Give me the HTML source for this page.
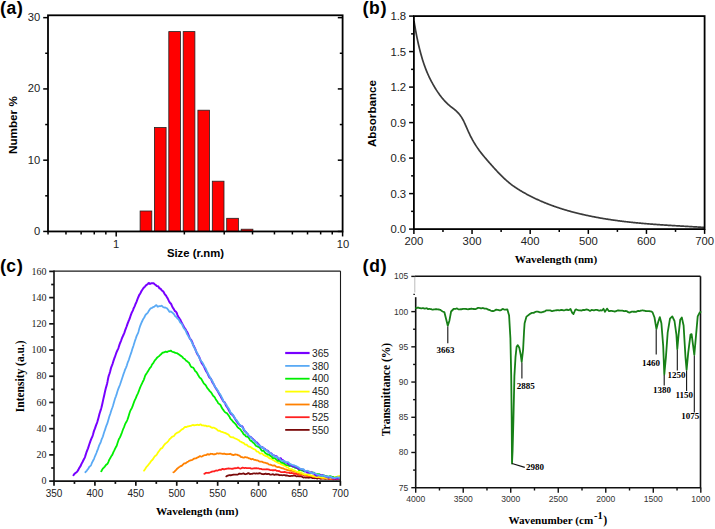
<!DOCTYPE html>
<html><head><meta charset="utf-8"><style>
html,body{margin:0;padding:0;background:#fff;}
body{width:715px;height:529px;overflow:hidden;}
svg{display:block;}

</style></head><body>
<svg width="715" height="529" viewBox="0 0 715 529">
<rect width="715" height="529" fill="#fff"/>
<text x="-0.09" y="13.90" font-family="Liberation Sans, sans-serif" font-size="18.5" font-weight="bold" fill="#000">(</text>
<text x="6.39" y="13.90" font-family="Liberation Sans, sans-serif" font-size="17.5" font-weight="bold" fill="#000">a</text>
<text x="16.78" y="13.90" font-family="Liberation Sans, sans-serif" font-size="18.5" font-weight="bold" fill="#000">)</text>
<rect x="140.10" y="211.00" width="11.7" height="20.45" fill="#ff0000" stroke="#222" stroke-width="0.8"/>
<rect x="154.40" y="127.50" width="11.7" height="103.95" fill="#ff0000" stroke="#222" stroke-width="0.8"/>
<rect x="168.80" y="31.60" width="11.7" height="199.85" fill="#ff0000" stroke="#222" stroke-width="0.8"/>
<rect x="183.20" y="31.60" width="11.7" height="199.85" fill="#ff0000" stroke="#222" stroke-width="0.8"/>
<rect x="197.90" y="110.20" width="11.7" height="121.25" fill="#ff0000" stroke="#222" stroke-width="0.8"/>
<rect x="212.30" y="181.20" width="11.7" height="50.25" fill="#ff0000" stroke="#222" stroke-width="0.8"/>
<rect x="226.70" y="218.30" width="11.7" height="13.15" fill="#ff0000" stroke="#222" stroke-width="0.8"/>
<rect x="241.20" y="229.20" width="11.7" height="2.25" fill="#ff0000" stroke="#222" stroke-width="0.8"/>
<rect x="48.0" y="15.3" width="294.6" height="216.14999999999998" fill="none" stroke="#000" stroke-width="1.8"/>
<line x1="43.20" y1="231.45" x2="48.00" y2="231.45" stroke="#000" stroke-width="1.5" />
<line x1="342.60" y1="231.45" x2="337.80" y2="231.45" stroke="#000" stroke-width="1.5" />
<text x="40.20" y="234.95" font-family="Liberation Sans, sans-serif" font-size="11.2" text-anchor="end" font-weight="normal" fill="#222" >0</text>
<line x1="45.20" y1="195.82" x2="48.00" y2="195.82" stroke="#000" stroke-width="1.5" />
<line x1="342.60" y1="195.82" x2="339.80" y2="195.82" stroke="#000" stroke-width="1.5" />
<line x1="43.20" y1="160.18" x2="48.00" y2="160.18" stroke="#000" stroke-width="1.5" />
<line x1="342.60" y1="160.18" x2="337.80" y2="160.18" stroke="#000" stroke-width="1.5" />
<text x="40.20" y="163.68" font-family="Liberation Sans, sans-serif" font-size="11.2" text-anchor="end" font-weight="normal" fill="#222" >10</text>
<line x1="45.20" y1="124.55" x2="48.00" y2="124.55" stroke="#000" stroke-width="1.5" />
<line x1="342.60" y1="124.55" x2="339.80" y2="124.55" stroke="#000" stroke-width="1.5" />
<line x1="43.20" y1="88.92" x2="48.00" y2="88.92" stroke="#000" stroke-width="1.5" />
<line x1="342.60" y1="88.92" x2="337.80" y2="88.92" stroke="#000" stroke-width="1.5" />
<text x="40.20" y="92.42" font-family="Liberation Sans, sans-serif" font-size="11.2" text-anchor="end" font-weight="normal" fill="#222" >20</text>
<line x1="45.20" y1="53.28" x2="48.00" y2="53.28" stroke="#000" stroke-width="1.5" />
<line x1="342.60" y1="53.28" x2="339.80" y2="53.28" stroke="#000" stroke-width="1.5" />
<line x1="43.20" y1="17.65" x2="48.00" y2="17.65" stroke="#000" stroke-width="1.5" />
<line x1="342.60" y1="17.65" x2="337.80" y2="17.65" stroke="#000" stroke-width="1.5" />
<text x="40.20" y="21.15" font-family="Liberation Sans, sans-serif" font-size="11.2" text-anchor="end" font-weight="normal" fill="#222" >30</text>
<line x1="48.05" y1="231.45" x2="48.05" y2="234.45" stroke="#000" stroke-width="1.5" />
<line x1="65.97" y1="231.45" x2="65.97" y2="234.45" stroke="#000" stroke-width="1.5" />
<line x1="81.13" y1="231.45" x2="81.13" y2="234.45" stroke="#000" stroke-width="1.5" />
<line x1="94.26" y1="231.45" x2="94.26" y2="234.45" stroke="#000" stroke-width="1.5" />
<line x1="105.84" y1="231.45" x2="105.84" y2="234.45" stroke="#000" stroke-width="1.5" />
<line x1="116.20" y1="231.45" x2="116.20" y2="236.45" stroke="#000" stroke-width="1.5" />
<line x1="184.35" y1="231.45" x2="184.35" y2="234.45" stroke="#000" stroke-width="1.5" />
<line x1="224.22" y1="231.45" x2="224.22" y2="234.45" stroke="#000" stroke-width="1.5" />
<line x1="252.51" y1="231.45" x2="252.51" y2="234.45" stroke="#000" stroke-width="1.5" />
<line x1="274.45" y1="231.45" x2="274.45" y2="234.45" stroke="#000" stroke-width="1.5" />
<line x1="292.37" y1="231.45" x2="292.37" y2="234.45" stroke="#000" stroke-width="1.5" />
<line x1="307.53" y1="231.45" x2="307.53" y2="234.45" stroke="#000" stroke-width="1.5" />
<line x1="320.66" y1="231.45" x2="320.66" y2="234.45" stroke="#000" stroke-width="1.5" />
<line x1="332.24" y1="231.45" x2="332.24" y2="234.45" stroke="#000" stroke-width="1.5" />
<line x1="342.60" y1="231.45" x2="342.60" y2="236.45" stroke="#000" stroke-width="1.5" />
<text x="116.20" y="247.60" font-family="Liberation Sans, sans-serif" font-size="11.2" text-anchor="middle" font-weight="normal" fill="#222" >1</text>
<text x="342.90" y="247.90" font-family="Liberation Sans, sans-serif" font-size="11.2" text-anchor="middle" font-weight="normal" fill="#222" >10</text>
<text x="195.50" y="257.00" font-family="Liberation Sans, sans-serif" font-size="11.3" text-anchor="middle" font-weight="bold" fill="#000" >Size (r.nm)</text>
<text x="16.81" y="125.10" font-family="Liberation Sans, sans-serif" font-size="11.7" text-anchor="middle" font-weight="bold" fill="#000" transform="rotate(-90 16.81 125.10)">Number %</text>
<text x="362.47" y="13.60" font-family="Liberation Sans, sans-serif" font-size="18.5" font-weight="bold" fill="#000">(</text>
<text x="368.95" y="13.60" font-family="Liberation Sans, sans-serif" font-size="17.5" font-weight="bold" fill="#000">b</text>
<text x="380.38" y="13.60" font-family="Liberation Sans, sans-serif" font-size="18.5" font-weight="bold" fill="#000">)</text>
<line x1="409.10" y1="229.10" x2="413.90" y2="229.10" stroke="#000" stroke-width="1.5" />
<text x="406.10" y="233.10" font-family="Liberation Sans, sans-serif" font-size="11.3" text-anchor="end" font-weight="normal" fill="#222" >0.0</text>
<line x1="411.10" y1="211.35" x2="413.90" y2="211.35" stroke="#000" stroke-width="1.5" />
<line x1="409.10" y1="193.60" x2="413.90" y2="193.60" stroke="#000" stroke-width="1.5" />
<text x="406.10" y="197.60" font-family="Liberation Sans, sans-serif" font-size="11.3" text-anchor="end" font-weight="normal" fill="#222" >0.3</text>
<line x1="411.10" y1="175.85" x2="413.90" y2="175.85" stroke="#000" stroke-width="1.5" />
<line x1="409.10" y1="158.10" x2="413.90" y2="158.10" stroke="#000" stroke-width="1.5" />
<text x="406.10" y="162.10" font-family="Liberation Sans, sans-serif" font-size="11.3" text-anchor="end" font-weight="normal" fill="#222" >0.6</text>
<line x1="411.10" y1="140.35" x2="413.90" y2="140.35" stroke="#000" stroke-width="1.5" />
<line x1="409.10" y1="122.60" x2="413.90" y2="122.60" stroke="#000" stroke-width="1.5" />
<text x="406.10" y="126.60" font-family="Liberation Sans, sans-serif" font-size="11.3" text-anchor="end" font-weight="normal" fill="#222" >0.9</text>
<line x1="411.10" y1="104.85" x2="413.90" y2="104.85" stroke="#000" stroke-width="1.5" />
<line x1="409.10" y1="87.10" x2="413.90" y2="87.10" stroke="#000" stroke-width="1.5" />
<text x="406.10" y="91.10" font-family="Liberation Sans, sans-serif" font-size="11.3" text-anchor="end" font-weight="normal" fill="#222" >1.2</text>
<line x1="411.10" y1="69.35" x2="413.90" y2="69.35" stroke="#000" stroke-width="1.5" />
<line x1="409.10" y1="51.60" x2="413.90" y2="51.60" stroke="#000" stroke-width="1.5" />
<text x="406.10" y="55.60" font-family="Liberation Sans, sans-serif" font-size="11.3" text-anchor="end" font-weight="normal" fill="#222" >1.5</text>
<line x1="411.10" y1="33.85" x2="413.90" y2="33.85" stroke="#000" stroke-width="1.5" />
<line x1="409.10" y1="16.10" x2="413.90" y2="16.10" stroke="#000" stroke-width="1.5" />
<text x="406.10" y="20.10" font-family="Liberation Sans, sans-serif" font-size="11.3" text-anchor="end" font-weight="normal" fill="#222" >1.8</text>
<line x1="413.90" y1="229.10" x2="413.90" y2="233.90" stroke="#000" stroke-width="1.5" />
<text x="413.90" y="245.10" font-family="Liberation Sans, sans-serif" font-size="11.3" text-anchor="middle" font-weight="normal" fill="#222" >200</text>
<line x1="442.97" y1="229.10" x2="442.97" y2="231.90" stroke="#000" stroke-width="1.5" />
<line x1="472.04" y1="229.10" x2="472.04" y2="233.90" stroke="#000" stroke-width="1.5" />
<text x="472.04" y="245.10" font-family="Liberation Sans, sans-serif" font-size="11.3" text-anchor="middle" font-weight="normal" fill="#222" >300</text>
<line x1="501.11" y1="229.10" x2="501.11" y2="231.90" stroke="#000" stroke-width="1.5" />
<line x1="530.18" y1="229.10" x2="530.18" y2="233.90" stroke="#000" stroke-width="1.5" />
<text x="530.18" y="245.10" font-family="Liberation Sans, sans-serif" font-size="11.3" text-anchor="middle" font-weight="normal" fill="#222" >400</text>
<line x1="559.25" y1="229.10" x2="559.25" y2="231.90" stroke="#000" stroke-width="1.5" />
<line x1="588.32" y1="229.10" x2="588.32" y2="233.90" stroke="#000" stroke-width="1.5" />
<text x="588.32" y="245.10" font-family="Liberation Sans, sans-serif" font-size="11.3" text-anchor="middle" font-weight="normal" fill="#222" >500</text>
<line x1="617.39" y1="229.10" x2="617.39" y2="231.90" stroke="#000" stroke-width="1.5" />
<line x1="646.46" y1="229.10" x2="646.46" y2="233.90" stroke="#000" stroke-width="1.5" />
<text x="646.46" y="245.10" font-family="Liberation Sans, sans-serif" font-size="11.3" text-anchor="middle" font-weight="normal" fill="#222" >600</text>
<line x1="675.53" y1="229.10" x2="675.53" y2="231.90" stroke="#000" stroke-width="1.5" />
<line x1="704.60" y1="229.10" x2="704.60" y2="233.90" stroke="#000" stroke-width="1.5" />
<text x="704.60" y="245.10" font-family="Liberation Sans, sans-serif" font-size="11.3" text-anchor="middle" font-weight="normal" fill="#222" >700</text>
<path d="M414.10,21.53 L414.60,24.57 L415.10,27.49 L415.60,30.30 L416.10,32.99 L416.60,35.58 L417.10,38.06 L417.60,40.45 L418.10,42.74 L418.60,44.94 L419.10,47.06 L419.60,49.10 L420.10,51.07 L420.60,52.97 L421.10,54.79 L421.60,56.56 L422.10,58.26 L422.60,59.90 L423.10,61.48 L423.60,63.01 L424.10,64.48 L424.60,65.90 L425.10,67.27 L425.60,68.60 L426.10,69.89 L426.60,71.13 L427.10,72.33 L427.60,73.50 L428.10,74.63 L428.60,75.73 L429.10,76.80 L429.60,77.84 L430.10,78.86 L430.60,79.85 L431.10,80.83 L431.60,81.78 L432.10,82.72 L432.60,83.64 L433.10,84.54 L433.60,85.42 L434.10,86.29 L434.60,87.14 L435.10,87.97 L435.60,88.79 L436.10,89.59 L436.60,90.37 L437.10,91.14 L437.60,91.89 L438.10,92.62 L438.60,93.34 L439.10,94.05 L439.60,94.74 L440.10,95.41 L440.60,96.07 L441.10,96.71 L441.60,97.35 L442.10,97.96 L442.60,98.56 L443.10,99.15 L443.60,99.73 L444.10,100.29 L444.60,100.84 L445.10,101.37 L445.60,101.90 L446.10,102.41 L446.60,102.91 L447.10,103.39 L447.60,103.87 L448.10,104.33 L448.60,104.78 L449.10,105.22 L449.60,105.65 L450.10,106.07 L450.60,106.48 L451.10,106.87 L451.60,107.26 L452.10,107.65 L452.60,108.03 L453.10,108.42 L453.60,108.80 L454.10,109.19 L454.60,109.59 L455.10,110.00 L455.60,110.42 L456.10,110.86 L456.60,111.31 L457.10,111.79 L457.60,112.29 L458.10,112.81 L458.60,113.36 L459.10,113.95 L459.60,114.56 L460.10,115.21 L460.60,115.90 L461.10,116.63 L461.60,117.40 L462.10,118.22 L462.60,119.09 L463.10,120.01 L463.60,120.98 L464.10,122.00 L464.60,123.06 L465.10,124.16 L465.60,125.28 L466.10,126.42 L466.60,127.56 L467.10,128.71 L467.60,129.86 L468.10,130.99 L468.60,132.09 L469.10,133.18 L469.60,134.23 L470.10,135.26 L470.60,136.26 L471.10,137.24 L471.60,138.20 L472.10,139.13 L472.60,140.05 L473.10,140.94 L473.60,141.81 L474.10,142.66 L474.60,143.49 L475.10,144.30 L475.60,145.10 L476.10,145.88 L476.60,146.64 L477.10,147.38 L477.60,148.12 L478.10,148.83 L478.60,149.54 L479.10,150.23 L479.60,150.90 L480.10,151.57 L480.60,152.23 L481.10,152.87 L481.60,153.51 L482.10,154.14 L482.60,154.76 L483.10,155.37 L483.60,155.97 L484.10,156.57 L484.60,157.17 L485.10,157.76 L485.60,158.35 L486.10,158.93 L486.60,159.51 L487.10,160.09 L487.60,160.67 L488.10,161.24 L488.60,161.82 L489.10,162.39 L489.60,162.96 L490.10,163.53 L490.60,164.10 L491.10,164.67 L491.60,165.23 L492.10,165.80 L492.60,166.36 L493.10,166.91 L493.60,167.47 L494.10,168.02 L494.60,168.57 L495.10,169.12 L495.60,169.66 L496.10,170.20 L496.60,170.74 L497.10,171.28 L497.60,171.81 L498.10,172.33 L498.60,172.85 L499.10,173.37 L499.60,173.89 L500.10,174.40 L500.60,174.91 L501.10,175.41 L501.60,175.91 L502.10,176.40 L502.60,176.89 L503.10,177.37 L503.60,177.85 L504.10,178.32 L504.60,178.79 L505.10,179.25 L505.60,179.70 L506.10,180.16 L506.60,180.60 L507.10,181.04 L507.60,181.47 L508.10,181.90 L508.60,182.32 L509.10,182.73 L509.60,183.14 L510.10,183.54 L510.60,183.94 L511.10,184.32 L511.60,184.71 L512.10,185.08 L512.60,185.46 L513.10,185.82 L513.60,186.18 L514.10,186.54 L514.60,186.89 L515.10,187.23 L515.60,187.57 L516.10,187.91 L516.60,188.24 L517.10,188.57 L517.60,188.89 L518.10,189.21 L518.60,189.52 L519.10,189.83 L519.60,190.14 L520.10,190.44 L520.60,190.74 L521.10,191.04 L521.60,191.34 L522.10,191.63 L522.60,191.92 L523.10,192.20 L523.60,192.48 L524.10,192.76 L524.60,193.04 L525.10,193.32 L525.60,193.59 L526.10,193.87 L526.60,194.14 L527.10,194.41 L527.60,194.67 L528.10,194.94 L528.60,195.20 L529.10,195.46 L529.60,195.72 L530.10,195.98 L530.60,196.23 L531.10,196.49 L531.60,196.74 L532.10,196.99 L532.60,197.24 L533.10,197.48 L533.60,197.73 L534.10,197.97 L534.60,198.21 L535.10,198.45 L535.60,198.68 L536.10,198.92 L536.60,199.15 L537.10,199.38 L537.60,199.61 L538.10,199.84 L538.60,200.07 L539.10,200.29 L539.60,200.51 L540.10,200.74 L540.60,200.95 L541.10,201.17 L541.60,201.39 L542.10,201.60 L542.60,201.82 L543.10,202.03 L543.60,202.24 L544.10,202.44 L544.60,202.65 L545.10,202.86 L545.60,203.06 L546.10,203.26 L546.60,203.46 L547.10,203.66 L547.60,203.86 L548.10,204.05 L548.60,204.25 L549.10,204.44 L549.60,204.63 L550.10,204.82 L550.60,205.01 L551.10,205.19 L551.60,205.38 L552.10,205.56 L552.60,205.74 L553.10,205.92 L553.60,206.10 L554.10,206.28 L554.60,206.46 L555.10,206.63 L555.60,206.81 L556.10,206.98 L556.60,207.15 L557.10,207.32 L557.60,207.49 L558.10,207.65 L558.60,207.82 L559.10,207.98 L559.60,208.15 L560.10,208.31 L560.60,208.47 L561.10,208.63 L561.60,208.79 L562.10,208.94 L562.60,209.10 L563.10,209.25 L563.60,209.41 L564.10,209.56 L564.60,209.71 L565.10,209.86 L565.60,210.01 L566.10,210.15 L566.60,210.30 L567.10,210.45 L567.60,210.59 L568.10,210.73 L568.60,210.87 L569.10,211.01 L569.60,211.15 L570.10,211.29 L570.60,211.43 L571.10,211.57 L571.60,211.70 L572.10,211.84 L572.60,211.97 L573.10,212.10 L573.60,212.23 L574.10,212.36 L574.60,212.49 L575.10,212.62 L575.60,212.75 L576.10,212.87 L576.60,213.00 L577.10,213.12 L577.60,213.25 L578.10,213.37 L578.60,213.49 L579.10,213.61 L579.60,213.73 L580.10,213.85 L580.60,213.97 L581.10,214.09 L581.60,214.20 L582.10,214.32 L582.60,214.43 L583.10,214.55 L583.60,214.66 L584.10,214.77 L584.60,214.88 L585.10,215.00 L585.60,215.11 L586.10,215.21 L586.60,215.32 L587.10,215.43 L587.60,215.54 L588.10,215.64 L588.60,215.75 L589.10,215.85 L589.60,215.96 L590.10,216.06 L590.60,216.16 L591.10,216.26 L591.60,216.36 L592.10,216.46 L592.60,216.56 L593.10,216.66 L593.60,216.76 L594.10,216.86 L594.60,216.95 L595.10,217.05 L595.60,217.14 L596.10,217.24 L596.60,217.33 L597.10,217.42 L597.60,217.52 L598.10,217.61 L598.60,217.70 L599.10,217.79 L599.60,217.88 L600.10,217.97 L600.60,218.05 L601.10,218.14 L601.60,218.23 L602.10,218.31 L602.60,218.40 L603.10,218.48 L603.60,218.57 L604.10,218.65 L604.60,218.73 L605.10,218.81 L605.60,218.89 L606.10,218.97 L606.60,219.05 L607.10,219.13 L607.60,219.21 L608.10,219.29 L608.60,219.37 L609.10,219.44 L609.60,219.52 L610.10,219.60 L610.60,219.67 L611.10,219.75 L611.60,219.82 L612.10,219.89 L612.60,219.97 L613.10,220.04 L613.60,220.11 L614.10,220.18 L614.60,220.25 L615.10,220.32 L615.60,220.39 L616.10,220.46 L616.60,220.52 L617.10,220.59 L617.60,220.66 L618.10,220.73 L618.60,220.79 L619.10,220.86 L619.60,220.92 L620.10,220.99 L620.60,221.05 L621.10,221.11 L621.60,221.17 L622.10,221.24 L622.60,221.30 L623.10,221.36 L623.60,221.42 L624.10,221.48 L624.60,221.54 L625.10,221.60 L625.60,221.66 L626.10,221.72 L626.60,221.77 L627.10,221.83 L627.60,221.89 L628.10,221.94 L628.60,222.00 L629.10,222.05 L629.60,222.11 L630.10,222.16 L630.60,222.22 L631.10,222.27 L631.60,222.32 L632.10,222.38 L632.60,222.43 L633.10,222.48 L633.60,222.53 L634.10,222.58 L634.60,222.63 L635.10,222.68 L635.60,222.73 L636.10,222.78 L636.60,222.83 L637.10,222.88 L637.60,222.93 L638.10,222.98 L638.60,223.02 L639.10,223.07 L639.60,223.12 L640.10,223.16 L640.60,223.21 L641.10,223.25 L641.60,223.30 L642.10,223.34 L642.60,223.39 L643.10,223.43 L643.60,223.48 L644.10,223.52 L644.60,223.56 L645.10,223.61 L645.60,223.65 L646.10,223.69 L646.60,223.73 L647.10,223.77 L647.60,223.81 L648.10,223.86 L648.60,223.90 L649.10,223.94 L649.60,223.98 L650.10,224.02 L650.60,224.05 L651.10,224.09 L651.60,224.13 L652.10,224.17 L652.60,224.21 L653.10,224.25 L653.60,224.28 L654.10,224.32 L654.60,224.36 L655.10,224.40 L655.60,224.43 L656.10,224.47 L656.60,224.51 L657.10,224.54 L657.60,224.58 L658.10,224.61 L658.60,224.65 L659.10,224.68 L659.60,224.72 L660.10,224.75 L660.60,224.79 L661.10,224.82 L661.60,224.85 L662.10,224.89 L662.60,224.92 L663.10,224.95 L663.60,224.99 L664.10,225.02 L664.60,225.05 L665.10,225.09 L665.60,225.12 L666.10,225.15 L666.60,225.18 L667.10,225.22 L667.60,225.25 L668.10,225.28 L668.60,225.31 L669.10,225.34 L669.60,225.37 L670.10,225.40 L670.60,225.44 L671.10,225.47 L671.60,225.50 L672.10,225.53 L672.60,225.56 L673.10,225.59 L673.60,225.62 L674.10,225.65 L674.60,225.68 L675.10,225.71 L675.60,225.74 L676.10,225.77 L676.60,225.80 L677.10,225.83 L677.60,225.86 L678.10,225.89 L678.60,225.92 L679.10,225.95 L679.60,225.97 L680.10,226.00 L680.60,226.03 L681.10,226.06 L681.60,226.09 L682.10,226.12 L682.60,226.15 L683.10,226.18 L683.60,226.21 L684.10,226.24 L684.60,226.27 L685.10,226.29 L685.60,226.32 L686.10,226.35 L686.60,226.38 L687.10,226.41 L687.60,226.44 L688.10,226.47 L688.60,226.50 L689.10,226.52 L689.60,226.55 L690.10,226.58 L690.60,226.61 L691.10,226.64 L691.60,226.67 L692.10,226.70 L692.60,226.73 L693.10,226.76 L693.60,226.79 L694.10,226.82 L694.60,226.84 L695.10,226.87 L695.60,226.90 L696.10,226.93 L696.60,226.96 L697.10,226.99 L697.60,227.02 L698.10,227.05 L698.60,227.08 L699.10,227.11 L699.60,227.14 L700.10,227.17 L700.60,227.20 L701.10,227.23 L701.60,227.26 L702.10,227.29 L702.60,227.33 L703.10,227.36 L703.60,227.39 L704.10,227.42" fill="none" stroke="#3a3a3a" stroke-width="1.7" stroke-linejoin="round" stroke-linecap="round" />
<rect x="413.9" y="16.1" width="290.70000000000005" height="213.0" fill="none" stroke="#000" stroke-width="1.8"/>
<text x="376.08" y="113.60" font-family="Liberation Sans, sans-serif" font-size="11.6" text-anchor="middle" font-weight="bold" fill="#000" transform="rotate(-90 376.08 113.60)">Absorbance</text>
<text x="556.00" y="263.10" font-family="Liberation Serif, serif" font-size="11.2" text-anchor="middle" font-weight="bold" fill="#000" >Wavelength (nm)</text>
<text x="-0.09" y="271.80" font-family="Liberation Sans, sans-serif" font-size="18.5" font-weight="bold" fill="#000">(</text>
<text x="6.22" y="271.80" font-family="Liberation Sans, sans-serif" font-size="17.5" font-weight="bold" fill="#000">c</text>
<text x="16.78" y="271.80" font-family="Liberation Sans, sans-serif" font-size="18.5" font-weight="bold" fill="#000">)</text>
<line x1="49.20" y1="481.10" x2="54.00" y2="481.10" stroke="#111" stroke-width="1.7" />
<text x="46.50" y="484.30" font-family="Liberation Serif, serif" font-size="10" text-anchor="end" font-weight="normal" fill="#222" >0</text>
<line x1="51.20" y1="467.99" x2="54.00" y2="467.99" stroke="#111" stroke-width="1.7" />
<line x1="49.20" y1="454.89" x2="54.00" y2="454.89" stroke="#111" stroke-width="1.7" />
<text x="46.50" y="458.09" font-family="Liberation Serif, serif" font-size="10" text-anchor="end" font-weight="normal" fill="#222" >20</text>
<line x1="51.20" y1="441.78" x2="54.00" y2="441.78" stroke="#111" stroke-width="1.7" />
<line x1="49.20" y1="428.68" x2="54.00" y2="428.68" stroke="#111" stroke-width="1.7" />
<text x="46.50" y="431.88" font-family="Liberation Serif, serif" font-size="10" text-anchor="end" font-weight="normal" fill="#222" >40</text>
<line x1="51.20" y1="415.57" x2="54.00" y2="415.57" stroke="#111" stroke-width="1.7" />
<line x1="49.20" y1="402.46" x2="54.00" y2="402.46" stroke="#111" stroke-width="1.7" />
<text x="46.50" y="405.66" font-family="Liberation Serif, serif" font-size="10" text-anchor="end" font-weight="normal" fill="#222" >60</text>
<line x1="51.20" y1="389.36" x2="54.00" y2="389.36" stroke="#111" stroke-width="1.7" />
<line x1="49.20" y1="376.25" x2="54.00" y2="376.25" stroke="#111" stroke-width="1.7" />
<text x="46.50" y="379.45" font-family="Liberation Serif, serif" font-size="10" text-anchor="end" font-weight="normal" fill="#222" >80</text>
<line x1="51.20" y1="363.14" x2="54.00" y2="363.14" stroke="#111" stroke-width="1.7" />
<line x1="49.20" y1="350.04" x2="54.00" y2="350.04" stroke="#111" stroke-width="1.7" />
<text x="46.50" y="353.24" font-family="Liberation Serif, serif" font-size="10" text-anchor="end" font-weight="normal" fill="#222" >100</text>
<line x1="51.20" y1="336.93" x2="54.00" y2="336.93" stroke="#111" stroke-width="1.7" />
<line x1="49.20" y1="323.82" x2="54.00" y2="323.82" stroke="#111" stroke-width="1.7" />
<text x="46.50" y="327.02" font-family="Liberation Serif, serif" font-size="10" text-anchor="end" font-weight="normal" fill="#222" >120</text>
<line x1="51.20" y1="310.72" x2="54.00" y2="310.72" stroke="#111" stroke-width="1.7" />
<line x1="49.20" y1="297.61" x2="54.00" y2="297.61" stroke="#111" stroke-width="1.7" />
<text x="46.50" y="300.81" font-family="Liberation Serif, serif" font-size="10" text-anchor="end" font-weight="normal" fill="#222" >140</text>
<line x1="51.20" y1="284.51" x2="54.00" y2="284.51" stroke="#111" stroke-width="1.7" />
<line x1="49.20" y1="271.40" x2="54.00" y2="271.40" stroke="#111" stroke-width="1.7" />
<text x="46.50" y="274.60" font-family="Liberation Serif, serif" font-size="10" text-anchor="end" font-weight="normal" fill="#222" >160</text>
<line x1="54.00" y1="481.10" x2="54.00" y2="485.80" stroke="#111" stroke-width="1.7" />
<text x="54.00" y="496.50" font-family="Liberation Sans, sans-serif" font-size="10" text-anchor="middle" font-weight="normal" fill="#222" >350</text>
<line x1="74.46" y1="481.10" x2="74.46" y2="483.90" stroke="#111" stroke-width="1.7" />
<line x1="94.91" y1="481.10" x2="94.91" y2="485.80" stroke="#111" stroke-width="1.7" />
<text x="94.91" y="496.50" font-family="Liberation Sans, sans-serif" font-size="10" text-anchor="middle" font-weight="normal" fill="#222" >400</text>
<line x1="115.37" y1="481.10" x2="115.37" y2="483.90" stroke="#111" stroke-width="1.7" />
<line x1="135.83" y1="481.10" x2="135.83" y2="485.80" stroke="#111" stroke-width="1.7" />
<text x="135.83" y="496.50" font-family="Liberation Sans, sans-serif" font-size="10" text-anchor="middle" font-weight="normal" fill="#222" >450</text>
<line x1="156.29" y1="481.10" x2="156.29" y2="483.90" stroke="#111" stroke-width="1.7" />
<line x1="176.74" y1="481.10" x2="176.74" y2="485.80" stroke="#111" stroke-width="1.7" />
<text x="176.74" y="496.50" font-family="Liberation Sans, sans-serif" font-size="10" text-anchor="middle" font-weight="normal" fill="#222" >500</text>
<line x1="197.20" y1="481.10" x2="197.20" y2="483.90" stroke="#111" stroke-width="1.7" />
<line x1="217.66" y1="481.10" x2="217.66" y2="485.80" stroke="#111" stroke-width="1.7" />
<text x="217.66" y="496.50" font-family="Liberation Sans, sans-serif" font-size="10" text-anchor="middle" font-weight="normal" fill="#222" >550</text>
<line x1="238.11" y1="481.10" x2="238.11" y2="483.90" stroke="#111" stroke-width="1.7" />
<line x1="258.57" y1="481.10" x2="258.57" y2="485.80" stroke="#111" stroke-width="1.7" />
<text x="258.57" y="496.50" font-family="Liberation Sans, sans-serif" font-size="10" text-anchor="middle" font-weight="normal" fill="#222" >600</text>
<line x1="279.03" y1="481.10" x2="279.03" y2="483.90" stroke="#111" stroke-width="1.7" />
<line x1="299.49" y1="481.10" x2="299.49" y2="485.80" stroke="#111" stroke-width="1.7" />
<text x="299.49" y="496.50" font-family="Liberation Sans, sans-serif" font-size="10" text-anchor="middle" font-weight="normal" fill="#222" >650</text>
<line x1="319.94" y1="481.10" x2="319.94" y2="483.90" stroke="#111" stroke-width="1.7" />
<line x1="340.40" y1="481.10" x2="340.40" y2="485.80" stroke="#111" stroke-width="1.7" />
<text x="340.40" y="496.50" font-family="Liberation Sans, sans-serif" font-size="10" text-anchor="middle" font-weight="normal" fill="#222" >700</text>
<path d="M226.30,476.40 L226.80,476.07 L227.30,475.81 L227.80,475.64 L228.30,475.48 L228.80,475.34 L229.30,475.21 L229.80,475.16 L230.30,475.27 L230.80,475.27 L231.30,475.11 L231.80,475.02 L232.30,474.97 L232.80,474.82 L233.30,474.62 L233.80,474.55 L234.30,474.63 L234.80,474.66 L235.30,474.56 L235.80,474.53 L236.30,474.63 L236.80,474.66 L237.30,474.65 L237.80,474.60 L238.30,474.30 L238.80,473.91 L239.30,473.69 L239.80,473.72 L240.30,473.90 L240.80,473.96 L241.30,473.94 L241.80,473.88 L242.30,473.73 L242.80,473.55 L243.30,473.39 L243.80,473.41 L244.30,473.71 L244.80,474.11 L245.30,474.25 L245.80,474.11 L246.30,473.95 L246.80,473.83 L247.30,473.63 L247.80,473.32 L248.30,473.08 L248.80,473.22 L249.30,473.70 L249.80,474.03 L250.30,473.99 L250.80,473.92 L251.30,473.96 L251.80,473.90 L252.30,473.75 L252.80,473.63 L253.30,473.50 L253.80,473.35 L254.30,473.34 L254.80,473.51 L255.30,473.69 L255.80,473.67 L256.30,473.43 L256.80,473.31 L257.30,473.52 L257.80,473.72 L258.30,473.57 L258.80,473.28 L259.30,473.13 L259.80,473.17 L260.30,473.32 L260.80,473.55 L261.30,473.77 L261.80,473.89 L262.30,474.03 L262.80,474.22 L263.30,474.23 L263.80,474.09 L264.30,473.99 L264.80,473.91 L265.30,473.73 L265.80,473.68 L266.30,473.91 L266.80,474.10 L267.30,474.03 L267.80,473.85 L268.30,473.79 L268.80,473.89 L269.30,474.16 L269.80,474.51 L270.30,474.68 L270.80,474.65 L271.30,474.55 L271.80,474.46 L272.30,474.34 L272.80,474.24 L273.30,474.30 L273.80,474.60 L274.30,474.88 L274.80,474.82 L275.30,474.53 L275.80,474.35 L276.30,474.38 L276.80,474.51 L277.30,474.54 L277.80,474.52 L278.30,474.63 L278.80,474.86 L279.30,475.10 L279.80,475.24 L280.30,475.22 L280.80,475.07 L281.30,475.03 L281.80,475.18 L282.30,475.30 L282.80,475.21 L283.30,475.07 L283.80,475.09 L284.30,475.15 L284.80,475.21 L285.30,475.37 L285.80,475.52 L286.30,475.48 L286.80,475.44 L287.30,475.55 L287.80,475.68 L288.30,475.78 L288.80,475.91 L289.30,476.01 L289.80,476.08 L290.30,476.09 L290.80,475.97 L291.30,475.82 L291.80,475.78 L292.30,475.82 L292.80,475.79 L293.30,475.67 L293.80,475.63 L294.30,475.68 L294.80,475.70 L295.30,475.79 L295.80,476.05 L296.30,476.27 L296.80,476.34 L297.30,476.25 L297.80,476.12 L298.30,476.14 L298.80,476.28 L299.30,476.40 L299.80,476.44 L300.30,476.43 L300.80,476.43 L301.30,476.46 L301.80,476.58 L302.30,476.89 L302.80,477.30 L303.30,477.55 L303.80,477.50 L304.30,477.37 L304.80,477.49 L305.30,477.67 L305.80,477.63 L306.30,477.55 L306.80,477.64 L307.30,477.70 L307.80,477.63 L308.30,477.69 L308.80,477.77 L309.30,477.72 L309.80,477.61 L310.30,477.47 L310.80,477.44 L311.30,477.57 L311.80,477.80 L312.30,477.98 L312.80,478.02 L313.30,478.00 L313.80,478.10 L314.30,478.24 L314.80,478.21 L315.30,478.11 L315.80,478.15 L316.30,478.27 L316.80,478.41 L317.30,478.56 L317.80,478.56 L318.30,478.29 L318.80,478.01 L319.30,478.07 L319.80,478.39 L320.30,478.65 L320.80,478.77 L321.30,478.73 L321.80,478.66 L322.30,478.59 L322.80,478.45 L323.30,478.45 L323.80,478.60 L324.30,478.70 L324.80,478.84 L325.30,478.94 L325.80,478.81 L326.30,478.66 L326.80,478.60 L327.30,478.49 L327.80,478.49 L328.30,478.75 L328.80,479.04 L329.30,479.18 L329.80,479.12 L330.30,478.96 L330.80,478.79 L331.30,478.75 L331.80,478.88 L332.30,479.03 L332.80,479.08 L333.30,479.03 L333.80,478.93 L334.30,478.90 L334.80,478.98 L335.30,479.11 L335.80,479.26 L336.30,479.40 L336.80,479.40 L337.30,479.20 L337.80,478.95 L338.30,478.88 L338.80,478.97 L339.30,479.01 L339.80,478.93" fill="none" stroke="#7a0a0a" stroke-width="1.8" stroke-linejoin="round" stroke-linecap="round" />
<path d="M204.30,473.81 L204.80,473.66 L205.30,473.35 L205.80,472.93 L206.30,472.75 L206.80,472.88 L207.30,472.91 L207.80,472.78 L208.30,472.75 L208.80,472.81 L209.30,472.79 L209.80,472.55 L210.30,472.26 L210.80,472.08 L211.30,471.89 L211.80,471.68 L212.30,471.52 L212.80,471.44 L213.30,471.44 L213.80,471.42 L214.30,471.33 L214.80,471.09 L215.30,470.74 L215.80,470.55 L216.30,470.51 L216.80,470.53 L217.30,470.58 L217.80,470.51 L218.30,470.29 L218.80,470.03 L219.30,469.78 L219.80,469.71 L220.30,469.85 L220.80,469.90 L221.30,469.68 L221.80,469.29 L222.30,468.97 L222.80,468.94 L223.30,469.12 L223.80,469.31 L224.30,469.32 L224.80,469.13 L225.30,469.00 L225.80,468.97 L226.30,468.85 L226.80,468.74 L227.30,468.71 L227.80,468.57 L228.30,468.43 L228.80,468.45 L229.30,468.62 L229.80,468.70 L230.30,468.63 L230.80,468.59 L231.30,468.73 L231.80,468.92 L232.30,468.84 L232.80,468.60 L233.30,468.51 L233.80,468.49 L234.30,468.34 L234.80,468.17 L235.30,468.17 L235.80,468.24 L236.30,468.18 L236.80,468.03 L237.30,467.86 L237.80,467.66 L238.30,467.63 L238.80,467.92 L239.30,468.25 L239.80,468.47 L240.30,468.59 L240.80,468.54 L241.30,468.26 L241.80,467.95 L242.30,467.76 L242.80,467.71 L243.30,467.81 L243.80,467.97 L244.30,468.06 L244.80,467.99 L245.30,467.87 L245.80,467.92 L246.30,468.06 L246.80,468.13 L247.30,468.08 L247.80,468.04 L248.30,468.07 L248.80,468.09 L249.30,468.08 L249.80,468.06 L250.30,468.15 L250.80,468.41 L251.30,468.65 L251.80,468.69 L252.30,468.66 L252.80,468.63 L253.30,468.49 L253.80,468.29 L254.30,468.24 L254.80,468.31 L255.30,468.31 L255.80,468.17 L256.30,468.12 L256.80,468.29 L257.30,468.45 L257.80,468.43 L258.30,468.36 L258.80,468.43 L259.30,468.70 L259.80,468.92 L260.30,468.88 L260.80,468.81 L261.30,468.96 L261.80,469.25 L262.30,469.42 L262.80,469.36 L263.30,469.28 L263.80,469.32 L264.30,469.38 L264.80,469.40 L265.30,469.39 L265.80,469.35 L266.30,469.30 L266.80,469.27 L267.30,469.27 L267.80,469.34 L268.30,469.45 L268.80,469.58 L269.30,469.72 L269.80,469.89 L270.30,470.02 L270.80,470.09 L271.30,470.16 L271.80,470.22 L272.30,470.25 L272.80,470.27 L273.30,470.26 L273.80,470.26 L274.30,470.26 L274.80,470.11 L275.30,470.02 L275.80,470.27 L276.30,470.60 L276.80,470.79 L277.30,470.87 L277.80,470.97 L278.30,471.04 L278.80,471.01 L279.30,471.09 L279.80,471.41 L280.30,471.81 L280.80,472.05 L281.30,472.10 L281.80,472.07 L282.30,472.09 L282.80,472.13 L283.30,472.08 L283.80,472.02 L284.30,472.02 L284.80,472.01 L285.30,472.05 L285.80,472.22 L286.30,472.45 L286.80,472.60 L287.30,472.62 L287.80,472.57 L288.30,472.57 L288.80,472.66 L289.30,472.89 L289.80,473.12 L290.30,473.15 L290.80,473.06 L291.30,473.00 L291.80,473.01 L292.30,473.05 L292.80,473.17 L293.30,473.41 L293.80,473.67 L294.30,473.89 L294.80,473.97 L295.30,473.85 L295.80,473.70 L296.30,473.79 L296.80,474.05 L297.30,474.13 L297.80,474.04 L298.30,474.16 L298.80,474.51 L299.30,474.84 L299.80,475.06 L300.30,475.09 L300.80,474.98 L301.30,474.78 L301.80,474.53 L302.30,474.36 L302.80,474.52 L303.30,474.98 L303.80,475.30 L304.30,475.37 L304.80,475.39 L305.30,475.50 L305.80,475.74 L306.30,475.93 L306.80,475.91 L307.30,475.88 L307.80,476.03 L308.30,476.15 L308.80,476.07 L309.30,476.00 L309.80,476.06 L310.30,476.07 L310.80,475.95 L311.30,475.85 L311.80,475.99 L312.30,476.36 L312.80,476.81 L313.30,477.12 L313.80,477.13 L314.30,476.86 L314.80,476.54 L315.30,476.44 L315.80,476.59 L316.30,476.92 L316.80,477.17 L317.30,477.21 L317.80,477.24 L318.30,477.41 L318.80,477.55 L319.30,477.49 L319.80,477.29 L320.30,477.24 L320.80,477.41 L321.30,477.62 L321.80,477.71 L322.30,477.80 L322.80,477.92 L323.30,477.89 L323.80,477.81 L324.30,477.78 L324.80,477.81 L325.30,477.94 L325.80,478.09 L326.30,478.18 L326.80,478.16 L327.30,478.11 L327.80,478.19 L328.30,478.39 L328.80,478.58 L329.30,478.77 L329.80,478.96 L330.30,478.96 L330.80,478.65 L331.30,478.40 L331.80,478.59 L332.30,479.04 L332.80,479.37 L333.30,479.43 L333.80,479.30 L334.30,479.05 L334.80,478.75 L335.30,478.59 L335.80,478.71 L336.30,478.99 L336.80,479.17 L337.30,479.14 L337.80,479.01 L338.30,478.92 L338.80,478.97 L339.30,479.22 L339.80,479.48" fill="none" stroke="#ff2020" stroke-width="1.8" stroke-linejoin="round" stroke-linecap="round" />
<path d="M173.40,472.35 L173.90,472.04 L174.40,471.70 L174.90,471.19 L175.40,470.67 L175.90,470.15 L176.40,469.52 L176.90,468.97 L177.40,468.55 L177.90,468.08 L178.40,467.62 L178.90,467.31 L179.40,467.03 L179.90,466.61 L180.40,466.16 L180.90,466.00 L181.40,466.01 L181.90,465.71 L182.40,465.11 L182.90,464.55 L183.40,464.06 L183.90,463.63 L184.40,463.40 L184.90,463.36 L185.40,463.33 L185.90,463.09 L186.40,462.65 L186.90,462.23 L187.40,461.94 L187.90,461.73 L188.40,461.46 L188.90,461.11 L189.40,460.80 L189.90,460.57 L190.40,460.39 L190.90,460.25 L191.40,460.15 L191.90,460.01 L192.40,459.80 L192.90,459.48 L193.40,459.06 L193.90,458.70 L194.40,458.55 L194.90,458.49 L195.40,458.47 L195.90,458.43 L196.40,458.22 L196.90,457.83 L197.40,457.48 L197.90,457.34 L198.40,457.22 L198.90,456.84 L199.40,456.37 L199.90,456.17 L200.40,456.24 L200.90,456.41 L201.40,456.53 L201.90,456.52 L202.40,456.25 L202.90,455.86 L203.40,455.62 L203.90,455.47 L204.40,455.25 L204.90,455.09 L205.40,455.10 L205.90,455.13 L206.40,454.96 L206.90,454.51 L207.40,454.14 L207.90,454.13 L208.40,454.37 L208.90,454.69 L209.40,454.69 L209.90,454.25 L210.40,453.82 L210.90,453.76 L211.40,453.90 L211.90,453.92 L212.40,453.90 L212.90,454.08 L213.40,454.31 L213.90,454.33 L214.40,454.26 L214.90,454.24 L215.40,454.19 L215.90,453.97 L216.40,453.65 L216.90,453.41 L217.40,453.36 L217.90,453.47 L218.40,453.61 L218.90,453.56 L219.40,453.43 L219.90,453.37 L220.40,453.46 L220.90,453.56 L221.40,453.57 L221.90,453.61 L222.40,453.78 L222.90,453.93 L223.40,453.90 L223.90,453.69 L224.40,453.59 L224.90,453.80 L225.40,454.06 L225.90,454.16 L226.40,454.22 L226.90,454.27 L227.40,454.18 L227.90,454.13 L228.40,454.14 L228.90,454.18 L229.40,454.15 L229.90,453.92 L230.40,453.73 L230.90,453.99 L231.40,454.53 L231.90,454.79 L232.40,454.73 L232.90,454.84 L233.40,455.08 L233.90,455.04 L234.40,454.72 L234.90,454.41 L235.40,454.37 L235.90,454.52 L236.40,454.59 L236.90,454.57 L237.40,454.79 L237.90,455.17 L238.40,455.40 L238.90,455.47 L239.40,455.62 L239.90,455.96 L240.40,456.50 L240.90,456.99 L241.40,457.19 L241.90,457.18 L242.40,457.25 L242.90,457.48 L243.40,457.68 L243.90,457.68 L244.40,457.43 L244.90,457.09 L245.40,457.04 L245.90,457.30 L246.40,457.48 L246.90,457.47 L247.40,457.47 L247.90,457.73 L248.40,458.11 L248.90,458.27 L249.40,458.29 L249.90,458.50 L250.40,458.84 L250.90,459.20 L251.40,459.34 L251.90,459.15 L252.40,458.96 L252.90,459.05 L253.40,459.32 L253.90,459.61 L254.40,459.82 L254.90,459.91 L255.40,459.98 L255.90,460.11 L256.40,460.27 L256.90,460.39 L257.40,460.43 L257.90,460.53 L258.40,460.79 L258.90,461.14 L259.40,461.48 L259.90,461.68 L260.40,461.71 L260.90,461.64 L261.40,461.53 L261.90,461.60 L262.40,461.93 L262.90,462.25 L263.40,462.43 L263.90,462.50 L264.40,462.55 L264.90,462.63 L265.40,462.77 L265.90,463.03 L266.40,463.24 L266.90,463.26 L267.40,463.30 L267.90,463.61 L268.40,464.10 L268.90,464.50 L269.40,464.65 L269.90,464.60 L270.40,464.64 L270.90,464.84 L271.40,465.05 L271.90,465.26 L272.40,465.52 L272.90,465.67 L273.40,465.60 L273.90,465.43 L274.40,465.39 L274.90,465.60 L275.40,466.02 L275.90,466.46 L276.40,466.76 L276.90,466.92 L277.40,467.10 L277.90,467.19 L278.40,467.02 L278.90,466.94 L279.40,467.18 L279.90,467.50 L280.40,467.65 L280.90,467.74 L281.40,467.98 L281.90,468.24 L282.40,468.28 L282.90,468.27 L283.40,468.41 L283.90,468.68 L284.40,469.04 L284.90,469.33 L285.40,469.41 L285.90,469.44 L286.40,469.58 L286.90,469.86 L287.40,470.14 L287.90,470.23 L288.40,470.17 L288.90,470.23 L289.40,470.50 L289.90,470.78 L290.40,470.85 L290.90,470.78 L291.40,470.81 L291.90,470.94 L292.40,470.97 L292.90,471.07 L293.40,471.38 L293.90,471.70 L294.40,471.85 L294.90,471.89 L295.40,471.92 L295.90,471.92 L296.40,472.00 L296.90,472.25 L297.40,472.61 L297.90,472.95 L298.40,473.27 L298.90,473.57 L299.40,473.83 L299.90,474.03 L300.40,474.14 L300.90,474.15 L301.40,474.15 L301.90,474.16 L302.40,474.15 L302.90,474.27 L303.40,474.47 L303.90,474.58 L304.40,474.59 L304.90,474.59 L305.40,474.75 L305.90,475.09 L306.40,475.41 L306.90,475.54 L307.40,475.54 L307.90,475.59 L308.40,475.65 L308.90,475.57 L309.40,475.49 L309.90,475.66 L310.40,475.88 L310.90,475.97 L311.40,476.08 L311.90,476.23 L312.40,476.30 L312.90,476.23 L313.40,476.10 L313.90,476.13 L314.40,476.40 L314.90,476.65 L315.40,476.75 L315.90,476.81 L316.40,476.76 L316.90,476.60 L317.40,476.59 L317.90,476.81 L318.40,476.92 L318.90,476.87 L319.40,476.90 L319.90,477.16 L320.40,477.50 L320.90,477.69 L321.40,477.77 L321.90,477.79 L322.40,477.80 L322.90,477.94 L323.40,478.29 L323.90,478.58 L324.40,478.53 L324.90,478.31 L325.40,478.25 L325.90,478.33 L326.40,478.20 L326.90,477.93 L327.40,478.03 L327.90,478.42 L328.40,478.59 L328.90,478.57 L329.40,478.64 L329.90,478.73 L330.40,478.73 L330.90,478.74 L331.40,478.73 L331.90,478.48 L332.40,478.18 L332.90,478.08 L333.40,478.13 L333.90,478.17 L334.40,478.11 L334.90,477.84 L335.40,477.62 L335.90,477.85 L336.40,478.27 L336.90,478.35 L337.40,478.22 L337.90,478.20 L338.40,478.27 L338.90,478.17 L339.40,477.99" fill="none" stroke="#ff8000" stroke-width="1.8" stroke-linejoin="round" stroke-linecap="round" />
<path d="M144.00,470.64 L144.50,469.92 L145.00,469.20 L145.50,468.48 L146.00,467.65 L146.50,466.86 L147.00,466.34 L147.50,465.92 L148.00,465.29 L148.50,464.59 L149.00,464.00 L149.50,463.44 L150.00,462.79 L150.50,462.02 L151.00,461.26 L151.50,460.66 L152.00,460.23 L152.50,459.79 L153.00,459.11 L153.50,458.20 L154.00,457.37 L154.50,456.73 L155.00,456.17 L155.50,455.73 L156.00,455.40 L156.50,454.90 L157.00,454.14 L157.50,453.31 L158.00,452.51 L158.50,451.70 L159.00,451.04 L159.50,450.47 L160.00,449.68 L160.50,448.86 L161.00,448.50 L161.50,448.49 L162.00,448.26 L162.50,447.60 L163.00,446.75 L163.50,445.96 L164.00,445.23 L164.50,444.57 L165.00,443.97 L165.50,443.52 L166.00,443.15 L166.50,442.75 L167.00,442.29 L167.50,441.80 L168.00,441.29 L168.50,440.72 L169.00,440.01 L169.50,439.26 L170.00,438.74 L170.50,438.31 L171.00,437.80 L171.50,437.28 L172.00,436.87 L172.50,436.63 L173.00,436.45 L173.50,436.25 L174.00,435.91 L174.50,435.27 L175.00,434.51 L175.50,433.90 L176.00,433.47 L176.50,433.15 L177.00,432.86 L177.50,432.55 L178.00,432.39 L178.50,432.28 L179.00,431.96 L179.50,431.50 L180.00,431.05 L180.50,430.61 L181.00,430.16 L181.50,429.68 L182.00,429.31 L182.50,429.12 L183.00,428.86 L183.50,428.35 L184.00,427.78 L184.50,427.28 L185.00,426.95 L185.50,426.90 L186.00,427.06 L186.50,427.08 L187.00,426.76 L187.50,426.43 L188.00,426.36 L188.50,426.29 L189.00,426.15 L189.50,426.01 L190.00,425.87 L190.50,425.79 L191.00,425.75 L191.50,425.57 L192.00,425.27 L192.50,425.03 L193.00,424.98 L193.50,425.12 L194.00,425.27 L194.50,425.28 L195.00,425.21 L195.50,425.17 L196.00,425.13 L196.50,424.96 L197.00,424.78 L197.50,424.71 L198.00,424.80 L198.50,425.02 L199.00,425.14 L199.50,424.90 L200.00,424.52 L200.50,424.42 L201.00,424.67 L201.50,425.09 L202.00,425.33 L202.50,425.32 L203.00,425.32 L203.50,425.44 L204.00,425.65 L204.50,425.74 L205.00,425.60 L205.50,425.56 L206.00,425.84 L206.50,426.16 L207.00,426.33 L207.50,426.27 L208.00,426.06 L208.50,426.06 L209.00,426.31 L209.50,426.42 L210.00,426.46 L210.50,426.75 L211.00,427.22 L211.50,427.56 L212.00,427.73 L212.50,427.77 L213.00,427.66 L213.50,427.59 L214.00,427.70 L214.50,427.94 L215.00,428.24 L215.50,428.54 L216.00,428.84 L216.50,429.16 L217.00,429.57 L217.50,430.09 L218.00,430.54 L218.50,430.73 L219.00,430.72 L219.50,430.74 L220.00,431.00 L220.50,431.41 L221.00,431.69 L221.50,431.77 L222.00,431.87 L222.50,432.02 L223.00,432.21 L223.50,432.47 L224.00,432.72 L224.50,432.86 L225.00,432.92 L225.50,433.09 L226.00,433.39 L226.50,433.68 L227.00,433.92 L227.50,434.11 L228.00,434.34 L228.50,434.67 L229.00,435.22 L229.50,435.94 L230.00,436.56 L230.50,436.90 L231.00,437.06 L231.50,437.21 L232.00,437.34 L232.50,437.30 L233.00,437.24 L233.50,437.44 L234.00,437.89 L234.50,438.26 L235.00,438.41 L235.50,438.53 L236.00,438.75 L236.50,438.98 L237.00,439.22 L237.50,439.54 L238.00,439.84 L238.50,440.00 L239.00,440.35 L239.50,440.93 L240.00,441.38 L240.50,441.59 L241.00,441.76 L241.50,442.04 L242.00,442.39 L242.50,442.66 L243.00,442.77 L243.50,442.92 L244.00,443.32 L244.50,443.93 L245.00,444.50 L245.50,444.72 L246.00,444.58 L246.50,444.55 L247.00,444.99 L247.50,445.64 L248.00,446.09 L248.50,446.45 L249.00,446.71 L249.50,446.74 L250.00,446.76 L250.50,446.94 L251.00,447.33 L251.50,447.84 L252.00,448.14 L252.50,448.30 L253.00,448.63 L253.50,448.98 L254.00,449.24 L254.50,449.37 L255.00,449.50 L255.50,449.83 L256.00,450.47 L256.50,451.23 L257.00,451.62 L257.50,451.57 L258.00,451.62 L258.50,452.01 L259.00,452.57 L259.50,453.17 L260.00,453.58 L260.50,453.59 L261.00,453.36 L261.50,453.28 L262.00,453.49 L262.50,453.87 L263.00,454.36 L263.50,454.88 L264.00,455.21 L264.50,455.38 L265.00,455.64 L265.50,456.00 L266.00,456.18 L266.50,456.21 L267.00,456.40 L267.50,456.69 L268.00,456.97 L268.50,457.40 L269.00,457.97 L269.50,458.40 L270.00,458.48 L270.50,458.45 L271.00,458.63 L271.50,458.98 L272.00,459.31 L272.50,459.67 L273.00,460.02 L273.50,460.25 L274.00,460.45 L274.50,460.79 L275.00,461.16 L275.50,461.44 L276.00,461.67 L276.50,461.89 L277.00,462.10 L277.50,462.37 L278.00,462.72 L278.50,463.02 L279.00,463.08 L279.50,463.12 L280.00,463.47 L280.50,463.91 L281.00,464.16 L281.50,464.36 L282.00,464.57 L282.50,464.77 L283.00,465.09 L283.50,465.46 L284.00,465.61 L284.50,465.62 L285.00,465.85 L285.50,466.25 L286.00,466.59 L286.50,466.98 L287.00,467.27 L287.50,467.27 L288.00,467.49 L288.50,468.10 L289.00,468.58 L289.50,468.86 L290.00,469.09 L290.50,469.17 L291.00,469.18 L291.50,469.20 L292.00,469.35 L292.50,469.70 L293.00,470.11 L293.50,470.39 L294.00,470.44 L294.50,470.45 L295.00,470.72 L295.50,471.10 L296.00,471.31 L296.50,471.50 L297.00,471.81 L297.50,472.05 L298.00,472.03 L298.50,471.91 L299.00,472.02 L299.50,472.31 L300.00,472.43 L300.50,472.36 L301.00,472.45 L301.50,472.77 L302.00,473.11 L302.50,473.47 L303.00,473.84 L303.50,474.07 L304.00,474.28 L304.50,474.51 L305.00,474.55 L305.50,474.46 L306.00,474.39 L306.50,474.35 L307.00,474.37 L307.50,474.49 L308.00,474.67 L308.50,474.89 L309.00,475.12 L309.50,475.16 L310.00,475.13 L310.50,475.27 L311.00,475.46 L311.50,475.58 L312.00,475.68 L312.50,475.91 L313.00,476.24 L313.50,476.34 L314.00,476.17 L314.50,476.16 L315.00,476.41 L315.50,476.68 L316.00,476.85 L316.50,477.05 L317.00,477.22 L317.50,477.17 L318.00,476.97 L318.50,476.89 L319.00,476.94 L319.50,477.01 L320.00,477.07 L320.50,477.21 L321.00,477.33 L321.50,477.33 L322.00,477.38 L322.50,477.51 L323.00,477.48 L323.50,477.35 L324.00,477.44 L324.50,477.65 L325.00,477.66 L325.50,477.62 L326.00,477.79 L326.50,477.89 L327.00,477.72 L327.50,477.60 L328.00,477.77 L328.50,477.96 L329.00,477.99 L329.50,478.04 L330.00,478.11 L330.50,478.04 L331.00,477.92 L331.50,477.91 L332.00,477.95 L332.50,477.94 L333.00,477.78 L333.50,477.50 L334.00,477.31 L334.50,477.27 L335.00,477.14 L335.50,476.98 L336.00,477.05 L336.50,477.09 L337.00,476.82 L337.50,476.48 L338.00,476.39 L338.50,476.38 L339.00,476.19 L339.50,475.89" fill="none" stroke="#ffff00" stroke-width="1.8" stroke-linejoin="round" stroke-linecap="round" />
<path d="M101.30,471.32 L101.80,470.48 L102.30,469.45 L102.80,468.60 L103.30,468.10 L103.80,467.71 L104.30,467.20 L104.80,466.58 L105.30,465.91 L105.80,465.20 L106.30,464.65 L106.80,464.36 L107.30,463.99 L107.80,463.23 L108.30,462.08 L108.80,460.84 L109.30,459.73 L109.80,458.86 L110.30,458.05 L110.80,457.06 L111.30,456.15 L111.80,455.54 L112.30,454.85 L112.80,453.71 L113.30,452.40 L113.80,451.35 L114.30,450.43 L114.80,449.35 L115.30,448.23 L115.80,447.35 L116.30,446.56 L116.80,445.41 L117.30,443.82 L117.80,442.21 L118.30,440.72 L118.80,439.39 L119.30,438.39 L119.80,437.63 L120.30,436.73 L120.80,435.45 L121.30,434.08 L121.80,432.85 L122.30,431.47 L122.80,430.02 L123.30,428.75 L123.80,427.59 L124.30,426.35 L124.80,425.00 L125.30,423.72 L125.80,422.82 L126.30,422.08 L126.80,421.14 L127.30,420.00 L127.80,418.69 L128.30,417.14 L128.80,415.45 L129.30,413.80 L129.80,412.20 L130.30,410.80 L130.80,409.81 L131.30,409.08 L131.80,408.18 L132.30,406.96 L132.80,405.59 L133.30,404.12 L133.80,402.69 L134.30,401.36 L134.80,400.18 L135.30,399.23 L135.80,398.17 L136.30,396.85 L136.80,395.64 L137.30,394.62 L137.80,393.61 L138.30,392.44 L138.80,391.15 L139.30,389.81 L139.80,388.41 L140.30,387.13 L140.80,386.00 L141.30,384.88 L141.80,383.84 L142.30,382.80 L142.80,381.73 L143.30,380.79 L143.80,379.80 L144.30,378.43 L144.80,376.81 L145.30,375.43 L145.80,374.58 L146.30,373.91 L146.80,373.13 L147.30,372.31 L147.80,371.52 L148.30,370.70 L148.80,369.88 L149.30,369.03 L149.80,368.17 L150.30,367.59 L150.80,367.05 L151.30,366.07 L151.80,364.92 L152.30,364.16 L152.80,363.69 L153.30,363.06 L153.80,362.12 L154.30,361.16 L154.80,360.47 L155.30,359.98 L155.80,359.37 L156.30,358.63 L156.80,358.00 L157.30,357.51 L157.80,357.06 L158.30,356.62 L158.80,356.28 L159.30,355.92 L159.80,355.39 L160.30,354.88 L160.80,354.49 L161.30,354.02 L161.80,353.47 L162.30,352.89 L162.80,352.54 L163.30,352.52 L163.80,352.52 L164.30,352.33 L164.80,352.01 L165.30,351.68 L165.80,351.58 L166.30,351.81 L166.80,352.04 L167.30,351.89 L167.80,351.55 L168.30,351.31 L168.80,351.18 L169.30,351.18 L169.80,351.16 L170.30,350.91 L170.80,350.70 L171.30,350.87 L171.80,351.32 L172.30,351.74 L172.80,351.96 L173.30,352.04 L173.80,352.21 L174.30,352.40 L174.80,352.60 L175.30,352.82 L175.80,352.95 L176.30,353.05 L176.80,353.21 L177.30,353.38 L177.80,353.69 L178.30,354.09 L178.80,354.39 L179.30,354.64 L179.80,355.01 L180.30,355.50 L180.80,355.90 L181.30,356.15 L181.80,356.43 L182.30,356.84 L182.80,357.51 L183.30,358.20 L183.80,358.49 L184.30,358.71 L184.80,359.18 L185.30,359.70 L185.80,360.27 L186.30,360.77 L186.80,361.09 L187.30,361.42 L187.80,361.86 L188.30,362.25 L188.80,362.63 L189.30,363.31 L189.80,364.34 L190.30,365.40 L190.80,366.29 L191.30,366.91 L191.80,367.21 L192.30,367.35 L192.80,367.50 L193.30,367.82 L193.80,368.46 L194.30,369.39 L194.80,370.38 L195.30,371.13 L195.80,371.57 L196.30,371.95 L196.80,372.57 L197.30,373.47 L197.80,374.41 L198.30,375.22 L198.80,376.09 L199.30,377.04 L199.80,377.68 L200.30,377.99 L200.80,378.37 L201.30,379.02 L201.80,379.83 L202.30,380.69 L202.80,381.59 L203.30,382.52 L203.80,383.33 L204.30,383.90 L204.80,384.31 L205.30,384.76 L205.80,385.36 L206.30,386.21 L206.80,387.16 L207.30,387.97 L207.80,388.64 L208.30,389.20 L208.80,389.84 L209.30,390.55 L209.80,391.15 L210.30,391.67 L210.80,392.17 L211.30,392.74 L211.80,393.47 L212.30,394.37 L212.80,395.32 L213.30,396.01 L213.80,396.37 L214.30,396.69 L214.80,397.42 L215.30,398.39 L215.80,399.28 L216.30,400.09 L216.80,400.75 L217.30,401.44 L217.80,402.37 L218.30,403.25 L218.80,403.69 L219.30,403.95 L219.80,404.32 L220.30,404.81 L220.80,405.51 L221.30,406.61 L221.80,407.78 L222.30,408.58 L222.80,409.17 L223.30,409.88 L223.80,410.62 L224.30,411.29 L224.80,411.91 L225.30,412.38 L225.80,412.73 L226.30,412.94 L226.80,413.10 L227.30,413.63 L227.80,414.38 L228.30,415.04 L228.80,415.67 L229.30,416.43 L229.80,417.47 L230.30,418.52 L230.80,419.15 L231.30,419.59 L231.80,420.12 L232.30,420.69 L232.80,421.34 L233.30,421.98 L233.80,422.45 L234.30,422.82 L234.80,423.32 L235.30,423.85 L235.80,424.41 L236.30,425.11 L236.80,425.90 L237.30,426.70 L237.80,427.34 L238.30,427.82 L238.80,428.21 L239.30,428.49 L239.80,428.78 L240.30,429.31 L240.80,430.02 L241.30,430.74 L241.80,431.40 L242.30,432.03 L242.80,432.79 L243.30,433.73 L243.80,434.34 L244.30,434.54 L244.80,434.84 L245.30,435.51 L245.80,436.24 L246.30,436.59 L246.80,436.57 L247.30,436.63 L247.80,436.91 L248.30,437.34 L248.80,437.97 L249.30,438.76 L249.80,439.61 L250.30,440.40 L250.80,440.79 L251.30,440.87 L251.80,441.16 L252.30,441.82 L252.80,442.42 L253.30,442.68 L253.80,442.97 L254.30,443.59 L254.80,444.29 L255.30,444.96 L255.80,445.58 L256.30,445.98 L256.80,446.16 L257.30,446.34 L257.80,446.61 L258.30,446.82 L258.80,447.05 L259.30,447.46 L259.80,447.92 L260.30,448.48 L260.80,449.25 L261.30,450.09 L261.80,450.68 L262.30,450.96 L262.80,450.93 L263.30,450.72 L263.80,450.87 L264.30,451.60 L264.80,452.44 L265.30,453.04 L265.80,453.42 L266.30,453.59 L266.80,453.78 L267.30,454.28 L267.80,454.68 L268.30,454.61 L268.80,454.55 L269.30,454.93 L269.80,455.49 L270.30,455.89 L270.80,456.10 L271.30,456.27 L271.80,456.69 L272.30,457.50 L272.80,458.19 L273.30,458.29 L273.80,458.05 L274.30,457.90 L274.80,458.05 L275.30,458.56 L275.80,459.06 L276.30,459.45 L276.80,459.92 L277.30,460.41 L277.80,460.76 L278.30,460.85 L278.80,460.71 L279.30,460.58 L279.80,460.81 L280.30,461.38 L280.80,461.99 L281.30,462.48 L281.80,462.73 L282.30,462.77 L282.80,462.90 L283.30,463.19 L283.80,463.48 L284.30,463.76 L284.80,464.09 L285.30,464.44 L285.80,464.71 L286.30,464.96 L286.80,465.17 L287.30,465.22 L287.80,465.20 L288.30,465.34 L288.80,465.64 L289.30,465.96 L289.80,466.05 L290.30,465.86 L290.80,465.77 L291.30,465.98 L291.80,466.24 L292.30,466.40 L292.80,466.56 L293.30,466.70 L293.80,466.95 L294.30,467.36 L294.80,467.70 L295.30,467.85 L295.80,467.97 L296.30,468.06 L296.80,467.96 L297.30,467.95 L297.80,468.41 L298.30,469.19 L298.80,469.90 L299.30,470.24 L299.80,470.13 L300.30,469.84 L300.80,469.78 L301.30,470.09 L301.80,470.50 L302.30,470.64 L302.80,470.63 L303.30,470.87 L303.80,471.31 L304.30,471.53 L304.80,471.34 L305.30,471.05 L305.80,470.97 L306.30,471.14 L306.80,471.52 L307.30,472.02 L307.80,472.41 L308.30,472.58 L308.80,472.54 L309.30,472.42 L309.80,472.39 L310.30,472.50 L310.80,472.75 L311.30,472.88 L311.80,472.68 L312.30,472.43 L312.80,472.44 L313.30,472.52 L313.80,472.68 L314.30,473.16 L314.80,473.81 L315.30,474.16 L315.80,474.23 L316.30,474.29 L316.80,474.23 L317.30,474.05 L317.80,474.04 L318.30,474.14 L318.80,474.13 L319.30,474.15 L319.80,474.54 L320.30,475.17 L320.80,475.63 L321.30,475.75 L321.80,475.73 L322.30,475.72 L322.80,475.54 L323.30,475.34 L323.80,475.42 L324.30,475.61 L324.80,475.80 L325.30,476.02 L325.80,476.19 L326.30,476.23 L326.80,476.27 L327.30,476.39 L327.80,476.46 L328.30,476.52 L328.80,476.58 L329.30,476.46 L329.80,476.26 L330.30,476.17 L330.80,476.30 L331.30,476.74 L331.80,477.11 L332.30,477.08 L332.80,476.93 L333.30,476.97 L333.80,477.36 L334.30,477.83 L334.80,477.93 L335.30,477.72 L335.80,477.54 L336.30,477.44 L336.80,477.41 L337.30,477.52 L337.80,477.83 L338.30,478.28 L338.80,478.61 L339.30,478.70 L339.80,478.69" fill="none" stroke="#00ee00" stroke-width="1.8" stroke-linejoin="round" stroke-linecap="round" />
<path d="M73.50,475.29 L74.00,474.55 L74.50,473.83 L75.00,473.36 L75.50,472.96 L76.00,472.57 L76.50,472.23 L77.00,471.73 L77.50,471.10 L78.00,470.44 L78.50,469.54 L79.00,468.43 L79.50,467.57 L80.00,466.95 L80.50,466.14 L81.00,465.02 L81.50,463.88 L82.00,462.90 L82.50,462.01 L83.00,461.02 L83.50,460.00 L84.00,459.11 L84.50,458.12 L85.00,456.85 L85.50,455.35 L86.00,453.74 L86.50,452.20 L87.00,450.83 L87.50,449.61 L88.00,448.33 L88.50,446.84 L89.00,445.28 L89.50,443.76 L90.00,442.31 L90.50,440.94 L91.00,439.59 L91.50,438.32 L92.00,437.27 L92.50,436.14 L93.00,434.54 L93.50,432.63 L94.00,430.89 L94.50,429.60 L95.00,428.40 L95.50,426.89 L96.00,425.33 L96.50,424.11 L97.00,422.89 L97.50,421.32 L98.00,419.55 L98.50,417.68 L99.00,415.72 L99.50,413.83 L100.00,412.18 L100.50,410.65 L101.00,409.08 L101.50,407.29 L102.00,405.23 L102.50,402.98 L103.00,400.64 L103.50,398.37 L104.00,396.22 L104.50,393.97 L105.00,391.65 L105.50,389.49 L106.00,387.58 L106.50,385.85 L107.00,384.02 L107.50,381.67 L108.00,378.95 L108.50,376.63 L109.00,374.97 L109.50,373.58 L110.00,371.97 L110.50,369.98 L111.00,368.02 L111.50,366.58 L112.00,365.40 L112.50,364.04 L113.00,362.47 L113.50,360.82 L114.00,359.31 L114.50,357.96 L115.00,356.64 L115.50,355.22 L116.00,353.74 L116.50,352.36 L117.00,351.19 L117.50,350.16 L118.00,349.10 L118.50,347.79 L119.00,346.19 L119.50,344.60 L120.00,343.26 L120.50,342.09 L121.00,340.85 L121.50,339.51 L122.00,338.21 L122.50,336.99 L123.00,335.86 L123.50,334.76 L124.00,333.64 L124.50,332.33 L125.00,330.80 L125.50,329.31 L126.00,328.05 L126.50,326.76 L127.00,325.31 L127.50,323.90 L128.00,322.55 L128.50,321.29 L129.00,320.20 L129.50,319.01 L130.00,317.56 L130.50,316.05 L131.00,314.59 L131.50,313.25 L132.00,312.15 L132.50,311.21 L133.00,310.07 L133.50,308.71 L134.00,307.55 L134.50,306.61 L135.00,305.39 L135.50,304.01 L136.00,302.97 L136.50,301.93 L137.00,300.50 L137.50,299.08 L138.00,297.93 L138.50,296.75 L139.00,295.51 L139.50,294.54 L140.00,293.85 L140.50,293.06 L141.00,292.04 L141.50,291.04 L142.00,290.19 L142.50,289.51 L143.00,288.79 L143.50,288.05 L144.00,287.51 L144.50,287.10 L145.00,286.61 L145.50,285.98 L146.00,285.36 L146.50,284.90 L147.00,284.57 L147.50,284.23 L148.00,283.75 L148.50,283.16 L149.00,282.99 L149.50,283.48 L150.00,283.89 L150.50,283.73 L151.00,283.38 L151.50,283.23 L152.00,283.23 L152.50,283.21 L153.00,283.18 L153.50,283.30 L154.00,283.62 L154.50,284.06 L155.00,284.47 L155.50,284.84 L156.00,285.24 L156.50,285.70 L157.00,286.11 L157.50,286.23 L158.00,286.17 L158.50,286.63 L159.00,287.61 L159.50,288.33 L160.00,288.53 L160.50,288.73 L161.00,289.28 L161.50,289.94 L162.00,290.46 L162.50,290.87 L163.00,291.23 L163.50,291.80 L164.00,292.73 L164.50,293.76 L165.00,294.53 L165.50,295.02 L166.00,295.61 L166.50,296.45 L167.00,297.32 L167.50,298.14 L168.00,299.06 L168.50,300.10 L169.00,301.18 L169.50,302.17 L170.00,302.85 L170.50,303.23 L171.00,303.77 L171.50,304.78 L172.00,305.97 L172.50,307.03 L173.00,307.86 L173.50,308.60 L174.00,309.43 L174.50,310.35 L175.00,311.06 L175.50,311.37 L176.00,311.71 L176.50,312.50 L177.00,313.68 L177.50,315.07 L178.00,316.29 L178.50,317.04 L179.00,317.70 L179.50,318.53 L180.00,319.27 L180.50,320.10 L181.00,321.19 L181.50,322.20 L182.00,323.11 L182.50,324.10 L183.00,325.12 L183.50,326.10 L184.00,327.01 L184.50,327.75 L185.00,328.38 L185.50,329.25 L186.00,330.32 L186.50,331.12 L187.00,331.80 L187.50,332.70 L188.00,333.85 L188.50,335.11 L189.00,336.40 L189.50,337.69 L190.00,338.71 L190.50,339.28 L191.00,339.78 L191.50,340.59 L192.00,341.68 L192.50,342.97 L193.00,344.34 L193.50,345.52 L194.00,346.53 L194.50,347.44 L195.00,348.39 L195.50,349.64 L196.00,351.08 L196.50,352.35 L197.00,353.44 L197.50,354.35 L198.00,355.04 L198.50,355.75 L199.00,356.59 L199.50,357.73 L200.00,359.18 L200.50,360.40 L201.00,361.47 L201.50,362.66 L202.00,363.60 L202.50,364.24 L203.00,364.85 L203.50,365.58 L204.00,366.51 L204.50,367.62 L205.00,368.73 L205.50,369.85 L206.00,370.93 L206.50,371.81 L207.00,372.56 L207.50,373.33 L208.00,374.29 L208.50,375.52 L209.00,376.69 L209.50,377.51 L210.00,378.00 L210.50,378.38 L211.00,378.98 L211.50,380.04 L212.00,381.34 L212.50,382.49 L213.00,383.33 L213.50,383.97 L214.00,384.78 L214.50,385.85 L215.00,386.91 L215.50,387.77 L216.00,388.54 L216.50,389.30 L217.00,390.00 L217.50,390.75 L218.00,391.66 L218.50,392.65 L219.00,393.60 L219.50,394.44 L220.00,395.19 L220.50,396.03 L221.00,397.01 L221.50,398.01 L222.00,398.86 L222.50,399.70 L223.00,400.70 L223.50,401.48 L224.00,401.82 L224.50,402.29 L225.00,403.22 L225.50,404.45 L226.00,405.56 L226.50,406.26 L227.00,406.87 L227.50,407.67 L228.00,408.60 L228.50,409.60 L229.00,410.53 L229.50,411.37 L230.00,412.31 L230.50,413.30 L231.00,413.94 L231.50,414.24 L232.00,414.50 L232.50,414.88 L233.00,415.48 L233.50,416.25 L234.00,417.06 L234.50,417.86 L235.00,418.72 L235.50,419.63 L236.00,420.42 L236.50,421.07 L237.00,421.79 L237.50,422.54 L238.00,423.30 L238.50,423.94 L239.00,424.37 L239.50,424.77 L240.00,425.41 L240.50,425.99 L241.00,426.08 L241.50,425.98 L242.00,426.14 L242.50,426.68 L243.00,427.69 L243.50,429.02 L244.00,430.13 L244.50,430.80 L245.00,431.29 L245.50,431.79 L246.00,432.30 L246.50,432.82 L247.00,433.36 L247.50,433.88 L248.00,434.49 L248.50,435.26 L249.00,435.91 L249.50,436.32 L250.00,436.62 L250.50,436.89 L251.00,437.30 L251.50,437.83 L252.00,438.28 L252.50,438.65 L253.00,439.08 L253.50,439.64 L254.00,440.11 L254.50,440.48 L255.00,441.06 L255.50,441.75 L256.00,442.25 L256.50,442.38 L257.00,442.55 L257.50,443.19 L258.00,443.90 L258.50,444.36 L259.00,444.80 L259.50,445.35 L260.00,446.00 L260.50,446.69 L261.00,447.21 L261.50,447.31 L262.00,447.11 L262.50,447.23 L263.00,447.88 L263.50,448.43 L264.00,448.53 L264.50,448.62 L265.00,449.08 L265.50,449.68 L266.00,450.09 L266.50,450.33 L267.00,450.50 L267.50,450.68 L268.00,451.00 L268.50,451.61 L269.00,452.29 L269.50,452.68 L270.00,452.84 L270.50,453.03 L271.00,453.27 L271.50,453.62 L272.00,454.22 L272.50,454.87 L273.00,455.18 L273.50,455.23 L274.00,455.49 L274.50,456.00 L275.00,456.34 L275.50,456.35 L276.00,456.19 L276.50,456.21 L277.00,456.74 L277.50,457.56 L278.00,458.24 L278.50,458.79 L279.00,459.31 L279.50,459.37 L280.00,458.82 L280.50,458.30 L281.00,458.48 L281.50,459.27 L282.00,459.99 L282.50,460.16 L283.00,460.22 L283.50,460.73 L284.00,461.32 L284.50,461.59 L285.00,461.92 L285.50,462.36 L286.00,462.51 L286.50,462.56 L287.00,462.76 L287.50,463.05 L288.00,463.48 L288.50,464.05 L289.00,464.46 L289.50,464.61 L290.00,464.73 L290.50,464.93 L291.00,465.16 L291.50,465.49 L292.00,465.93 L292.50,466.32 L293.00,466.43 L293.50,466.12 L294.00,465.81 L294.50,466.08 L295.00,466.66 L295.50,467.00 L296.00,467.15 L296.50,467.37 L297.00,467.74 L297.50,468.11 L298.00,468.40 L298.50,468.63 L299.00,468.86 L299.50,468.99 L300.00,469.04 L300.50,469.09 L301.00,469.11 L301.50,469.26 L302.00,469.53 L302.50,469.67 L303.00,469.74 L303.50,469.95 L304.00,470.36 L304.50,470.89 L305.00,471.19 L305.50,471.28 L306.00,471.51 L306.50,471.98 L307.00,472.37 L307.50,472.40 L308.00,472.31 L308.50,472.37 L309.00,472.54 L309.50,472.83 L310.00,473.04 L310.50,472.85 L311.00,472.45 L311.50,472.28 L312.00,472.57 L312.50,473.09 L313.00,473.44 L313.50,473.56 L314.00,473.61 L314.50,473.94 L315.00,474.56 L315.50,475.09 L316.00,475.39 L316.50,475.63 L317.00,475.72 L317.50,475.47 L318.00,475.16 L318.50,475.17 L319.00,475.34 L319.50,475.39 L320.00,475.26 L320.50,475.13 L321.00,475.19 L321.50,475.24 L322.00,475.14 L322.50,475.24 L323.00,475.47 L323.50,475.65 L324.00,475.86 L324.50,476.07 L325.00,476.27 L325.50,476.47 L326.00,476.60 L326.50,476.67 L327.00,476.77 L327.50,477.02 L328.00,477.44 L328.50,477.71 L329.00,477.57 L329.50,477.27 L330.00,477.13 L330.50,477.15 L331.00,477.15 L331.50,477.27 L332.00,477.60 L332.50,477.98 L333.00,478.24 L333.50,478.22 L334.00,478.06 L334.50,478.19 L335.00,478.51 L335.50,478.63 L336.00,478.54 L336.50,478.36 L337.00,478.23 L337.50,478.39 L338.00,478.61 L338.50,478.45 L339.00,477.99 L339.50,477.67" fill="none" stroke="#7700ff" stroke-width="2.0" stroke-linejoin="round" stroke-linecap="round" />
<path d="M85.40,472.19 L85.90,471.59 L86.40,471.04 L86.90,470.53 L87.40,469.80 L87.90,469.11 L88.40,468.45 L88.90,467.58 L89.40,466.76 L89.90,466.30 L90.40,466.05 L90.90,465.44 L91.40,464.23 L91.90,462.92 L92.40,461.88 L92.90,460.95 L93.40,460.06 L93.90,459.05 L94.40,457.79 L94.90,456.48 L95.40,455.28 L95.90,454.17 L96.40,452.98 L96.90,451.67 L97.40,450.40 L97.90,449.09 L98.40,447.65 L98.90,446.18 L99.40,444.92 L99.90,443.94 L100.40,442.97 L100.90,441.62 L101.40,439.97 L101.90,438.63 L102.40,437.61 L102.90,436.37 L103.40,434.73 L103.90,433.00 L104.40,431.51 L104.90,430.13 L105.40,428.62 L105.90,427.03 L106.40,425.62 L106.90,424.48 L107.40,423.13 L107.90,421.41 L108.40,419.66 L108.90,417.94 L109.40,416.32 L109.90,414.92 L110.40,413.48 L110.90,411.82 L111.40,410.19 L111.90,408.78 L112.40,407.47 L112.90,405.99 L113.40,404.32 L113.90,402.62 L114.40,400.82 L114.90,399.04 L115.40,397.58 L115.90,396.30 L116.40,394.90 L116.90,393.24 L117.40,391.55 L117.90,390.06 L118.40,388.64 L118.90,387.33 L119.40,386.21 L119.90,384.97 L120.40,383.53 L120.90,382.06 L121.40,380.53 L121.90,378.99 L122.40,377.53 L122.90,375.99 L123.40,374.38 L123.90,373.00 L124.40,371.63 L124.90,370.12 L125.40,368.84 L125.90,367.81 L126.40,366.71 L126.90,365.24 L127.40,363.50 L127.90,362.01 L128.40,360.89 L128.90,359.58 L129.40,357.97 L129.90,356.44 L130.40,355.04 L130.90,353.62 L131.40,352.13 L131.90,350.47 L132.40,348.80 L132.90,347.36 L133.40,345.94 L133.90,344.35 L134.40,342.63 L134.90,340.99 L135.40,339.62 L135.90,338.18 L136.40,336.62 L136.90,335.33 L137.40,334.37 L137.90,333.44 L138.40,332.02 L138.90,330.11 L139.40,328.22 L139.90,326.66 L140.40,325.34 L140.90,324.06 L141.40,322.84 L141.90,321.75 L142.40,320.73 L142.90,319.68 L143.40,318.75 L143.90,318.08 L144.40,317.32 L144.90,316.18 L145.40,315.16 L145.90,314.52 L146.40,313.99 L146.90,313.52 L147.40,313.09 L147.90,312.49 L148.40,311.63 L148.90,310.74 L149.40,309.96 L149.90,309.24 L150.40,308.69 L150.90,308.29 L151.40,308.01 L151.90,307.88 L152.40,307.69 L152.90,307.33 L153.40,306.98 L153.90,306.85 L154.40,306.66 L154.90,306.19 L155.40,305.66 L155.90,305.29 L156.40,305.17 L156.90,305.64 L157.40,306.44 L157.90,306.78 L158.40,306.55 L158.90,306.23 L159.40,306.16 L159.90,306.23 L160.40,306.18 L160.90,305.97 L161.40,305.73 L161.90,305.79 L162.40,306.30 L162.90,306.87 L163.40,307.22 L163.90,307.43 L164.40,307.54 L164.90,307.46 L165.40,307.52 L165.90,307.81 L166.40,308.00 L166.90,308.26 L167.40,308.83 L167.90,309.48 L168.40,310.14 L168.90,311.01 L169.40,311.76 L169.90,311.87 L170.40,311.56 L170.90,311.43 L171.40,311.83 L171.90,312.35 L172.40,312.67 L172.90,313.02 L173.40,313.55 L173.90,314.12 L174.40,314.83 L174.90,315.71 L175.40,316.38 L175.90,316.73 L176.40,317.14 L176.90,317.81 L177.40,318.47 L177.90,318.85 L178.40,319.19 L178.90,319.91 L179.40,320.93 L179.90,321.93 L180.40,322.69 L180.90,323.14 L181.40,323.46 L181.90,324.08 L182.40,325.17 L182.90,326.44 L183.40,327.47 L183.90,328.31 L184.40,328.99 L184.90,329.50 L185.40,330.12 L185.90,331.13 L186.40,332.45 L186.90,333.68 L187.40,334.53 L187.90,335.26 L188.40,336.19 L188.90,337.06 L189.40,337.73 L189.90,338.44 L190.40,339.37 L190.90,340.46 L191.40,341.43 L191.90,342.31 L192.40,343.38 L192.90,344.57 L193.40,345.71 L193.90,346.80 L194.40,347.76 L194.90,348.69 L195.40,349.89 L195.90,351.10 L196.40,351.87 L196.90,352.47 L197.40,353.28 L197.90,354.38 L198.40,355.70 L198.90,356.96 L199.40,358.06 L199.90,359.02 L200.40,359.89 L200.90,360.69 L201.40,361.32 L201.90,361.87 L202.40,362.53 L202.90,363.36 L203.40,364.43 L203.90,365.61 L204.40,366.51 L204.90,367.22 L205.40,367.94 L205.90,368.88 L206.40,370.11 L206.90,371.36 L207.40,372.48 L207.90,373.47 L208.40,374.42 L208.90,375.40 L209.40,376.33 L209.90,377.15 L210.40,378.06 L210.90,379.03 L211.40,379.84 L211.90,380.41 L212.40,381.10 L212.90,382.21 L213.40,383.44 L213.90,384.57 L214.40,385.72 L214.90,386.76 L215.40,387.48 L215.90,387.99 L216.40,388.48 L216.90,389.12 L217.40,389.94 L217.90,390.85 L218.40,391.77 L218.90,392.59 L219.40,393.29 L219.90,393.91 L220.40,394.66 L220.90,395.60 L221.40,396.57 L221.90,397.55 L222.40,398.60 L222.90,399.81 L223.40,401.07 L223.90,402.09 L224.40,402.76 L224.90,403.33 L225.40,403.80 L225.90,404.11 L226.40,404.71 L226.90,405.79 L227.40,406.83 L227.90,407.60 L228.40,408.14 L228.90,408.72 L229.40,409.73 L229.90,410.99 L230.40,411.97 L230.90,412.68 L231.40,413.29 L231.90,413.74 L232.40,414.26 L232.90,414.91 L233.40,415.55 L233.90,416.29 L234.40,417.17 L234.90,418.11 L235.40,418.98 L235.90,419.54 L236.40,419.93 L236.90,420.54 L237.40,421.33 L237.90,422.05 L238.40,422.78 L238.90,423.61 L239.40,424.34 L239.90,424.85 L240.40,425.20 L240.90,425.48 L241.40,426.04 L241.90,426.83 L242.40,427.47 L242.90,428.04 L243.40,428.71 L243.90,429.40 L244.40,429.99 L244.90,430.67 L245.40,431.71 L245.90,432.65 L246.40,432.89 L246.90,433.04 L247.40,433.75 L247.90,434.67 L248.40,435.29 L248.90,435.64 L249.40,436.09 L249.90,436.67 L250.40,436.99 L250.90,437.25 L251.40,437.82 L251.90,438.53 L252.40,439.12 L252.90,439.61 L253.40,440.10 L253.90,440.58 L254.40,440.96 L254.90,441.26 L255.40,441.64 L255.90,442.22 L256.40,442.90 L256.90,443.57 L257.40,444.14 L257.90,444.58 L258.40,445.06 L258.90,445.48 L259.40,445.64 L259.90,445.73 L260.40,446.01 L260.90,446.60 L261.40,447.28 L261.90,447.69 L262.40,447.76 L262.90,447.63 L263.40,447.76 L263.90,448.31 L264.40,449.15 L264.90,449.97 L265.40,450.22 L265.90,450.07 L266.40,450.17 L266.90,450.60 L267.40,451.16 L267.90,451.75 L268.40,452.31 L268.90,452.59 L269.40,452.55 L269.90,452.64 L270.40,453.08 L270.90,453.62 L271.40,454.07 L271.90,454.40 L272.40,454.68 L272.90,454.86 L273.40,455.03 L273.90,455.46 L274.40,456.21 L274.90,456.82 L275.40,456.93 L275.90,456.88 L276.40,456.92 L276.90,456.97 L277.40,457.17 L277.90,457.69 L278.40,458.11 L278.90,458.17 L279.40,458.36 L279.90,459.00 L280.40,459.72 L280.90,460.19 L281.40,460.60 L281.90,460.98 L282.40,461.06 L282.90,460.87 L283.40,460.73 L283.90,460.83 L284.40,461.10 L284.90,461.39 L285.40,461.70 L285.90,462.04 L286.40,462.21 L286.90,462.23 L287.40,462.16 L287.90,462.07 L288.40,462.28 L288.90,462.84 L289.40,463.43 L289.90,463.87 L290.40,464.17 L290.90,464.31 L291.40,464.44 L291.90,464.69 L292.40,465.01 L292.90,465.21 L293.40,465.27 L293.90,465.26 L294.40,465.40 L294.90,465.79 L295.40,466.07 L295.90,466.02 L296.40,466.09 L296.90,466.51 L297.40,466.90 L297.90,467.05 L298.40,467.26 L298.90,467.62 L299.40,468.02 L299.90,468.45 L300.40,468.79 L300.90,468.92 L301.40,469.05 L301.90,469.19 L302.40,469.14 L302.90,469.02 L303.40,469.15 L303.90,469.71 L304.40,470.37 L304.90,470.73 L305.40,470.86 L305.90,470.89 L306.40,470.89 L306.90,470.90 L307.40,470.78 L307.90,470.73 L308.40,470.96 L308.90,471.37 L309.40,471.93 L309.90,472.59 L310.40,472.97 L310.90,472.92 L311.40,472.88 L311.90,473.03 L312.40,473.11 L312.90,473.03 L313.40,472.94 L313.90,473.02 L314.40,473.19 L314.90,473.31 L315.40,473.49 L315.90,473.84 L316.40,474.24 L316.90,474.58 L317.40,474.79 L317.90,474.69 L318.40,474.53 L318.90,474.78 L319.40,475.30 L319.90,475.57 L320.40,475.56 L320.90,475.59 L321.40,475.70 L321.90,475.84 L322.40,475.95 L322.90,475.79 L323.40,475.41 L323.90,475.41 L324.40,475.91 L324.90,476.34 L325.40,476.36 L325.90,476.23 L326.40,476.41 L326.90,476.72 L327.40,476.77 L327.90,476.72 L328.40,476.67 L328.90,476.65 L329.40,476.75 L329.90,476.79 L330.40,476.62 L330.90,476.61 L331.40,477.03 L331.90,477.56 L332.40,477.81 L332.90,477.81 L333.40,477.76 L333.90,477.84 L334.40,478.03 L334.90,478.05 L335.40,477.76 L335.90,477.54 L336.40,477.57 L336.90,477.48 L337.40,477.25 L337.90,477.24 L338.40,477.51 L338.90,477.77 L339.40,477.76" fill="none" stroke="#5aaaf5" stroke-width="1.8" stroke-linejoin="round" stroke-linecap="round" />
<line x1="54.00" y1="271.10" x2="340.50" y2="271.10" stroke="#1a1a1a" stroke-width="1.1" />
<line x1="340.50" y1="271.10" x2="340.50" y2="481.10" stroke="#1a1a1a" stroke-width="1.1" />
<line x1="54.00" y1="270.60" x2="54.00" y2="481.90" stroke="#111" stroke-width="1.6" />
<line x1="53.20" y1="481.10" x2="341.00" y2="481.10" stroke="#111" stroke-width="1.6" />
<line x1="285.20" y1="353.00" x2="309.60" y2="353.00" stroke="#7700ff" stroke-width="2.2" />
<text x="312.00" y="356.70" font-family="Liberation Sans, sans-serif" font-size="10.2" text-anchor="start" font-weight="normal" fill="#222" >365</text>
<line x1="285.20" y1="365.90" x2="309.60" y2="365.90" stroke="#5aaaf5" stroke-width="1.8" />
<text x="312.00" y="369.60" font-family="Liberation Sans, sans-serif" font-size="10.2" text-anchor="start" font-weight="normal" fill="#222" >380</text>
<line x1="285.20" y1="378.70" x2="309.60" y2="378.70" stroke="#00ee00" stroke-width="1.8" />
<text x="312.00" y="382.40" font-family="Liberation Sans, sans-serif" font-size="10.2" text-anchor="start" font-weight="normal" fill="#222" >400</text>
<line x1="285.20" y1="391.60" x2="309.60" y2="391.60" stroke="#ffff00" stroke-width="1.8" />
<text x="312.00" y="395.30" font-family="Liberation Sans, sans-serif" font-size="10.2" text-anchor="start" font-weight="normal" fill="#222" >450</text>
<line x1="285.20" y1="404.50" x2="309.60" y2="404.50" stroke="#ff8000" stroke-width="1.8" />
<text x="312.00" y="408.20" font-family="Liberation Sans, sans-serif" font-size="10.2" text-anchor="start" font-weight="normal" fill="#222" >488</text>
<line x1="285.20" y1="417.20" x2="309.60" y2="417.20" stroke="#ff2020" stroke-width="1.8" />
<text x="312.00" y="420.90" font-family="Liberation Sans, sans-serif" font-size="10.2" text-anchor="start" font-weight="normal" fill="#222" >525</text>
<line x1="285.20" y1="429.90" x2="309.60" y2="429.90" stroke="#7a0a0a" stroke-width="1.8" />
<text x="312.00" y="433.60" font-family="Liberation Sans, sans-serif" font-size="10.2" text-anchor="start" font-weight="normal" fill="#222" >550</text>
<text x="23.84" y="376.30" font-family="Liberation Serif, serif" font-size="11.5" text-anchor="middle" font-weight="bold" fill="#000" transform="rotate(-90 23.84 376.30)">Intensity (a.u.)</text>
<text x="197.20" y="515.00" font-family="Liberation Serif, serif" font-size="11.2" text-anchor="middle" font-weight="bold" fill="#000" >Wavelength (nm)</text>
<text x="362.47" y="271.50" font-family="Liberation Sans, sans-serif" font-size="18.5" font-weight="bold" fill="#000">(</text>
<text x="369.18" y="271.50" font-family="Liberation Sans, sans-serif" font-size="17.5" font-weight="bold" fill="#000">d</text>
<text x="380.38" y="271.50" font-family="Liberation Sans, sans-serif" font-size="18.5" font-weight="bold" fill="#000">)</text>
<line x1="411.30" y1="487.70" x2="415.70" y2="487.70" stroke="#111" stroke-width="1.4" />
<text x="408.30" y="490.70" font-family="Liberation Sans, sans-serif" font-size="8.5" text-anchor="end" font-weight="normal" fill="#333" >75</text>
<line x1="413.10" y1="470.09" x2="415.70" y2="470.09" stroke="#111" stroke-width="1.4" />
<line x1="411.30" y1="452.48" x2="415.70" y2="452.48" stroke="#111" stroke-width="1.4" />
<text x="408.30" y="455.48" font-family="Liberation Sans, sans-serif" font-size="8.5" text-anchor="end" font-weight="normal" fill="#333" >80</text>
<line x1="413.10" y1="434.88" x2="415.70" y2="434.88" stroke="#111" stroke-width="1.4" />
<line x1="411.30" y1="417.27" x2="415.70" y2="417.27" stroke="#111" stroke-width="1.4" />
<text x="408.30" y="420.27" font-family="Liberation Sans, sans-serif" font-size="8.5" text-anchor="end" font-weight="normal" fill="#333" >85</text>
<line x1="413.10" y1="399.66" x2="415.70" y2="399.66" stroke="#111" stroke-width="1.4" />
<line x1="411.30" y1="382.05" x2="415.70" y2="382.05" stroke="#111" stroke-width="1.4" />
<text x="408.30" y="385.05" font-family="Liberation Sans, sans-serif" font-size="8.5" text-anchor="end" font-weight="normal" fill="#333" >90</text>
<line x1="413.10" y1="364.44" x2="415.70" y2="364.44" stroke="#111" stroke-width="1.4" />
<line x1="411.30" y1="346.83" x2="415.70" y2="346.83" stroke="#111" stroke-width="1.4" />
<text x="408.30" y="349.83" font-family="Liberation Sans, sans-serif" font-size="8.5" text-anchor="end" font-weight="normal" fill="#333" >95</text>
<line x1="413.10" y1="329.23" x2="415.70" y2="329.23" stroke="#111" stroke-width="1.4" />
<line x1="411.30" y1="311.62" x2="415.70" y2="311.62" stroke="#111" stroke-width="1.4" />
<text x="408.30" y="314.62" font-family="Liberation Sans, sans-serif" font-size="8.5" text-anchor="end" font-weight="normal" fill="#333" >100</text>
<line x1="411.30" y1="276.40" x2="415.70" y2="276.40" stroke="#111" stroke-width="1.4" />
<text x="408.30" y="279.40" font-family="Liberation Sans, sans-serif" font-size="8.5" text-anchor="end" font-weight="normal" fill="#333" >105</text>
<line x1="415.70" y1="487.70" x2="415.70" y2="492.70" stroke="#111" stroke-width="1.4" />
<text x="415.70" y="501.60" font-family="Liberation Sans, sans-serif" font-size="8.6" text-anchor="middle" font-weight="normal" fill="#333" >4000</text>
<line x1="439.46" y1="487.70" x2="439.46" y2="490.50" stroke="#111" stroke-width="1.4" />
<line x1="463.22" y1="487.70" x2="463.22" y2="492.70" stroke="#111" stroke-width="1.4" />
<text x="463.22" y="501.60" font-family="Liberation Sans, sans-serif" font-size="8.6" text-anchor="middle" font-weight="normal" fill="#333" >3500</text>
<line x1="486.97" y1="487.70" x2="486.97" y2="490.50" stroke="#111" stroke-width="1.4" />
<line x1="510.73" y1="487.70" x2="510.73" y2="492.70" stroke="#111" stroke-width="1.4" />
<text x="510.73" y="501.60" font-family="Liberation Sans, sans-serif" font-size="8.6" text-anchor="middle" font-weight="normal" fill="#333" >3000</text>
<line x1="534.49" y1="487.70" x2="534.49" y2="490.50" stroke="#111" stroke-width="1.4" />
<line x1="558.25" y1="487.70" x2="558.25" y2="492.70" stroke="#111" stroke-width="1.4" />
<text x="558.25" y="501.60" font-family="Liberation Sans, sans-serif" font-size="8.6" text-anchor="middle" font-weight="normal" fill="#333" >2500</text>
<line x1="582.01" y1="487.70" x2="582.01" y2="490.50" stroke="#111" stroke-width="1.4" />
<line x1="605.77" y1="487.70" x2="605.77" y2="492.70" stroke="#111" stroke-width="1.4" />
<text x="605.77" y="501.60" font-family="Liberation Sans, sans-serif" font-size="8.6" text-anchor="middle" font-weight="normal" fill="#333" >2000</text>
<line x1="629.52" y1="487.70" x2="629.52" y2="490.50" stroke="#111" stroke-width="1.4" />
<line x1="653.28" y1="487.70" x2="653.28" y2="492.70" stroke="#111" stroke-width="1.4" />
<text x="653.28" y="501.60" font-family="Liberation Sans, sans-serif" font-size="8.6" text-anchor="middle" font-weight="normal" fill="#333" >1500</text>
<line x1="677.04" y1="487.70" x2="677.04" y2="490.50" stroke="#111" stroke-width="1.4" />
<line x1="700.80" y1="487.70" x2="700.80" y2="492.70" stroke="#111" stroke-width="1.4" />
<text x="700.80" y="501.60" font-family="Liberation Sans, sans-serif" font-size="8.6" text-anchor="middle" font-weight="normal" fill="#333" >1000</text>
<line x1="415.20" y1="276.30" x2="700.50" y2="276.30" stroke="#111" stroke-width="1.6" />
<line x1="700.50" y1="276.30" x2="700.50" y2="487.70" stroke="#111" stroke-width="1.6" />
<line x1="415.20" y1="487.70" x2="701.20" y2="487.70" stroke="#111" stroke-width="1.6" />
<line x1="415.70" y1="297.20" x2="415.70" y2="487.70" stroke="#111" stroke-width="1.6" />
<line x1="414.80" y1="276.80" x2="414.80" y2="292.50" stroke="#bbb" stroke-width="1.0" />
<line x1="413.30" y1="294.30" x2="415.00" y2="294.30" stroke="#333" stroke-width="1.2" />
<path d="M415.90,308.10 L416.63,308.21 L417.35,307.71 L418.08,307.51 L418.81,307.79 L419.53,308.05 L420.26,308.18 L420.99,308.34 L421.71,308.31 L422.44,308.09 L423.17,308.05 L423.89,308.31 L424.62,308.60 L425.35,308.53 L426.07,308.24 L426.80,308.33 L427.51,308.85 L428.21,309.13 L428.92,308.96 L429.62,308.89 L430.33,309.06 L431.03,309.19 L431.74,309.43 L432.44,309.64 L433.15,309.58 L433.85,309.47 L434.56,309.40 L435.26,309.27 L435.97,309.23 L436.67,309.27 L437.38,309.34 L438.08,309.42 L438.79,309.51 L439.49,309.62 L440.20,309.78 L441.04,310.40 L441.88,311.03 L442.72,311.49 L443.56,311.82 L444.40,312.30 L446.10,319.00 L447.80,325.70 L449.40,320.70 L451.10,311.50 L453.60,309.00 L454.32,308.94 L455.04,308.90 L455.76,308.76 L456.48,308.49 L457.20,308.61 L457.91,309.05 L458.63,309.37 L459.35,309.45 L460.07,309.36 L460.79,309.25 L461.51,309.24 L462.23,309.19 L462.95,308.97 L463.67,308.90 L464.39,308.87 L465.10,308.84 L465.82,308.99 L466.54,309.01 L467.26,309.18 L467.98,309.33 L468.70,309.08 L469.41,308.97 L470.12,309.01 L470.83,308.77 L471.54,308.70 L472.25,308.87 L472.96,308.97 L473.67,308.98 L474.38,309.02 L475.09,309.11 L475.81,309.02 L476.52,308.68 L477.23,308.24 L477.94,307.90 L478.65,307.82 L479.36,307.94 L480.07,308.04 L480.78,308.38 L481.49,308.47 L482.20,308.03 L483.00,307.98 L483.80,308.29 L484.60,308.58 L485.40,308.63 L486.20,308.73 L487.00,308.94 L487.74,309.38 L488.49,309.76 L489.23,309.88 L489.97,310.17 L490.71,310.59 L491.46,310.82 L492.20,311.01 L492.93,311.02 L493.66,310.99 L494.39,310.73 L495.11,310.22 L495.84,309.74 L496.57,309.72 L497.30,309.85 L498.01,309.92 L498.73,310.06 L499.44,310.41 L500.16,310.45 L500.87,310.17 L501.59,309.76 L502.30,309.11 L503.01,308.94 L503.73,309.32 L504.44,309.53 L505.16,309.59 L505.87,309.57 L506.59,309.50 L507.30,309.30 L509.10,315.60 L510.40,338.30 L511.20,375.50 L511.70,420.50 L512.00,463.50 L512.60,450.50 L513.40,420.50 L514.40,376.10 L515.50,357.20 L516.60,346.80 L517.80,345.15 L519.30,347.80 L520.80,355.30 L521.70,361.90 L523.10,349.60 L524.10,330.50 L524.60,323.20 L526.50,316.60 L530.20,313.70 L530.96,313.33 L531.72,312.98 L532.48,312.79 L533.24,312.86 L534.00,312.74 L534.76,312.28 L535.52,311.81 L536.28,311.68 L537.04,311.72 L537.80,311.55 L538.56,311.79 L539.32,312.18 L540.08,312.44 L540.84,312.43 L541.60,312.46 L542.36,312.00 L543.12,311.76 L543.88,311.73 L544.64,311.48 L545.40,310.87 L546.17,310.45 L546.93,310.29 L547.70,310.35 L548.47,310.36 L549.23,310.29 L550.00,310.29 L550.76,310.66 L551.51,311.04 L552.27,311.15 L553.02,310.98 L553.78,310.71 L554.53,310.55 L555.29,310.46 L556.04,310.42 L556.80,310.25 L557.53,310.08 L558.26,310.16 L558.99,310.36 L559.72,310.38 L560.46,310.18 L561.19,309.98 L561.92,309.94 L562.65,310.06 L563.38,310.31 L564.11,310.32 L564.84,310.16 L565.58,309.89 L566.31,309.58 L567.04,309.63 L567.77,310.04 L568.50,310.21 L570.50,308.90 L572.00,312.50 L573.50,314.00 L575.20,310.00 L575.96,309.33 L576.71,309.63 L577.47,309.90 L578.22,310.14 L578.98,310.34 L579.73,310.33 L580.49,310.45 L581.24,310.69 L582.00,310.49 L582.76,310.02 L583.53,310.00 L584.29,310.10 L585.05,309.83 L585.82,309.60 L586.58,309.52 L587.35,309.56 L588.11,309.82 L588.87,310.32 L589.64,310.76 L590.40,310.77 L591.12,310.29 L591.85,309.91 L592.57,310.02 L593.30,310.24 L594.02,310.32 L594.75,310.14 L595.48,309.96 L596.20,309.94 L596.92,309.86 L597.65,310.05 L598.38,310.44 L599.10,310.69 L599.83,310.56 L600.55,310.23 L601.27,310.37 L602.00,310.50 L603.50,308.78 L605.00,311.79 L607.00,308.63 L609.00,311.20 L609.71,311.20 L610.42,310.91 L611.13,310.80 L611.84,310.86 L612.55,311.01 L613.26,311.24 L613.97,311.38 L614.68,311.49 L615.39,311.40 L616.10,311.07 L616.80,310.73 L617.51,310.48 L618.22,310.41 L618.93,310.50 L619.64,310.59 L620.35,310.58 L621.06,310.63 L621.77,310.64 L622.48,310.59 L623.19,310.77 L623.90,311.09 L624.63,311.23 L625.36,311.02 L626.09,311.00 L626.81,311.22 L627.54,311.64 L628.27,312.15 L629.00,312.49 L629.73,312.50 L630.46,312.31 L631.19,311.88 L631.92,311.64 L632.66,311.70 L633.39,311.77 L634.12,311.71 L634.85,311.76 L635.58,311.87 L636.31,311.76 L637.04,311.36 L637.78,310.89 L638.51,310.81 L639.24,311.08 L639.97,311.03 L640.70,310.69 L641.42,310.56 L642.14,310.47 L642.86,310.45 L643.59,310.59 L644.31,310.68 L645.03,310.83 L645.75,311.01 L646.47,311.06 L647.19,311.09 L647.91,311.08 L648.64,311.05 L649.36,311.19 L650.08,311.36 L650.80,311.32 L652.50,312.30 L654.50,317.50 L656.40,328.90 L658.20,322.10 L659.80,317.06 L661.40,323.20 L663.20,346.00 L664.30,374.40 L665.90,357.30 L667.70,332.30 L670.00,318.70 L672.30,316.39 L674.50,321.00 L676.40,334.60 L677.30,349.27 L678.60,334.60 L680.20,319.80 L681.80,317.50 L683.60,325.50 L685.50,357.30 L686.60,369.80 L688.20,352.80 L690.50,334.60 L691.60,334.10 L692.70,342.50 L694.30,355.00 L696.10,334.60 L697.70,316.40 L699.50,313.00 L700.50,312.00" fill="none" stroke="#178017" stroke-width="1.8" stroke-linejoin="round" stroke-linecap="round" />
<line x1="447.80" y1="326.50" x2="447.80" y2="343.20" stroke="#111" stroke-width="1.1" />
<text x="445.50" y="352.50" font-family="Liberation Serif, serif" font-size="9" text-anchor="middle" font-weight="bold" fill="#000" >3663</text>
<line x1="521.90" y1="362.40" x2="521.90" y2="378.40" stroke="#111" stroke-width="1.1" />
<text x="525.80" y="389.20" font-family="Liberation Serif, serif" font-size="9" text-anchor="middle" font-weight="bold" fill="#000" >2885</text>
<line x1="656.20" y1="329.50" x2="656.20" y2="354.50" stroke="#111" stroke-width="1.1" />
<text x="651.10" y="365.60" font-family="Liberation Serif, serif" font-size="9" text-anchor="middle" font-weight="bold" fill="#000" >1460</text>
<line x1="664.20" y1="375.00" x2="664.20" y2="385.40" stroke="#111" stroke-width="1.1" />
<text x="661.90" y="393.00" font-family="Liberation Serif, serif" font-size="9" text-anchor="middle" font-weight="bold" fill="#000" >1380</text>
<line x1="677.30" y1="350.00" x2="677.30" y2="370.50" stroke="#111" stroke-width="1.1" />
<text x="676.50" y="378.40" font-family="Liberation Serif, serif" font-size="9" text-anchor="middle" font-weight="bold" fill="#000" >1250</text>
<line x1="686.60" y1="370.50" x2="686.60" y2="390.90" stroke="#111" stroke-width="1.1" />
<text x="684.20" y="398.30" font-family="Liberation Serif, serif" font-size="9" text-anchor="middle" font-weight="bold" fill="#000" >1150</text>
<line x1="694.30" y1="355.70" x2="694.30" y2="412.50" stroke="#111" stroke-width="1.1" />
<text x="690.20" y="419.40" font-family="Liberation Serif, serif" font-size="9" text-anchor="middle" font-weight="bold" fill="#000" >1075</text>
<line x1="512.00" y1="463.50" x2="524.80" y2="467.40" stroke="#111" stroke-width="1.1" />
<text x="526.00" y="470.10" font-family="Liberation Serif, serif" font-size="9" text-anchor="start" font-weight="bold" fill="#000" >2980</text>
<text x="389.74" y="389.60" font-family="Liberation Serif, serif" font-size="11.5" text-anchor="middle" font-weight="bold" fill="#000" transform="rotate(-90 389.74 389.60)">Transmittance (%)</text>
<text x="508.6" y="524.4" font-family="Liberation Serif, serif" font-size="11.1" font-weight="bold" fill="#000">Wavenumber (cm<tspan dx="0.8" dy="-5.2" font-size="10.5">-1</tspan><tspan dx="0.6" dy="5.2" font-size="12">)</tspan></text>
</svg>
</body></html>
